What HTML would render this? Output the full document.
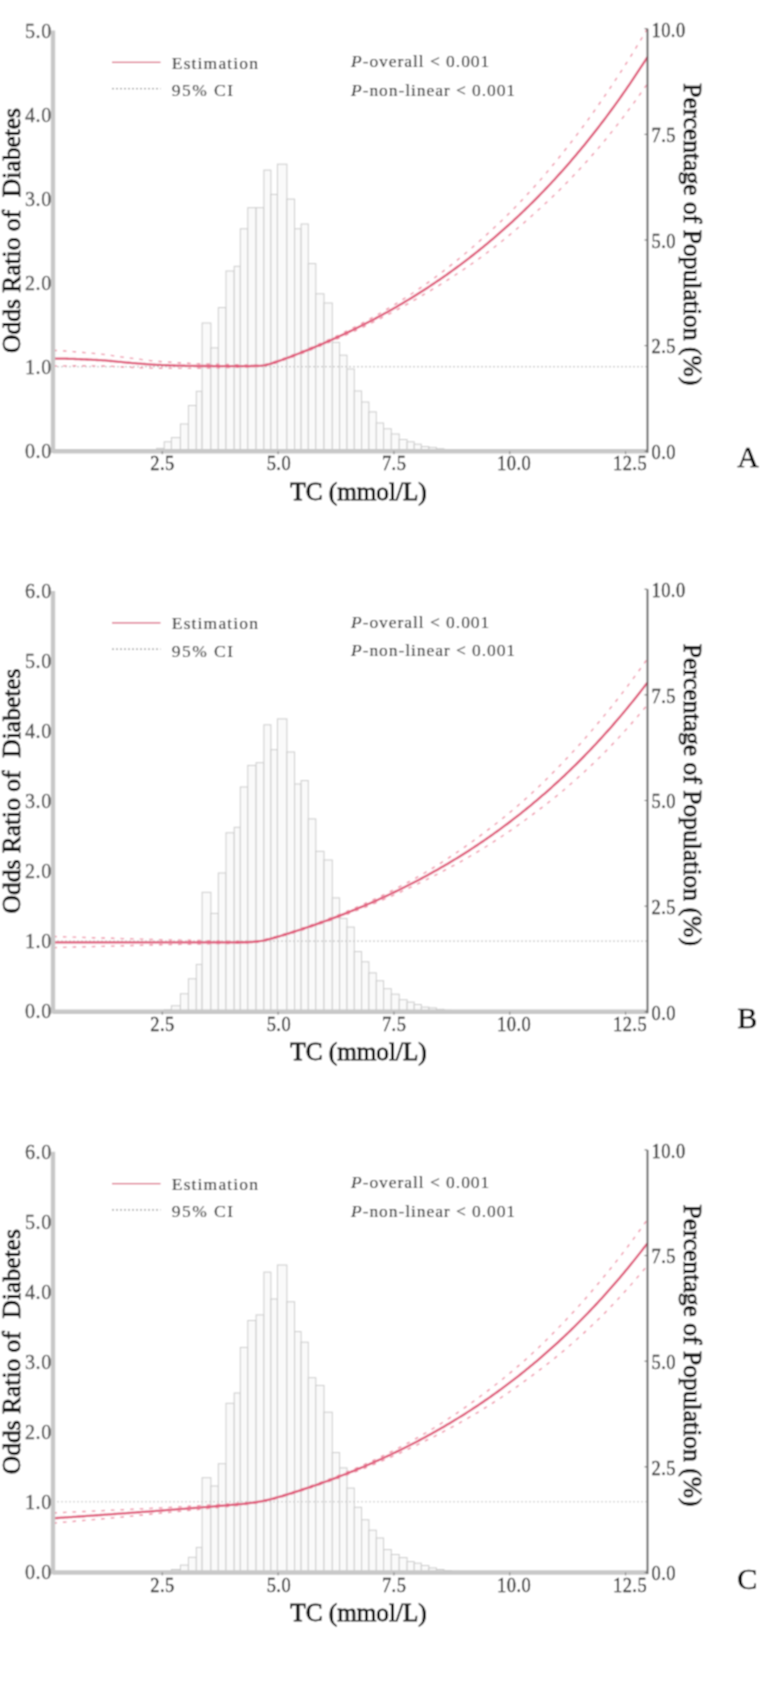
<!DOCTYPE html>
<html><head><meta charset="utf-8"><style>
html,body{margin:0;padding:0;background:#fff;}
svg{display:block;}
text{font-family:"Liberation Serif",serif;}
</style></head><body>
<svg width="760" height="1693" viewBox="0 0 760 1693">

<defs><filter id="bl" filterUnits="userSpaceOnUse" x="0" y="0" width="760" height="1693"><feConvolveMatrix order="3" kernelMatrix="1 2 1 2 4 2 1 2 1" divisor="16" edgeMode="duplicate" preserveAlpha="true"/></filter></defs>
<g filter="url(#bl)">
<rect width="760" height="1693" fill="#fff"/>
<g transform="translate(0,0)">
<rect x="149.08" y="450.30" width="7.56" height="1.00" fill="#fafafa" stroke="#cbcbcb" stroke-width="1"/>
<rect x="156.64" y="448.30" width="7.56" height="3.00" fill="#fafafa" stroke="#cbcbcb" stroke-width="1"/>
<rect x="164.20" y="441.80" width="7.20" height="9.50" fill="#fafafa" stroke="#cbcbcb" stroke-width="1"/>
<rect x="171.40" y="437.60" width="9.00" height="13.70" fill="#fafafa" stroke="#cbcbcb" stroke-width="1"/>
<rect x="180.40" y="424.00" width="8.00" height="27.30" fill="#fafafa" stroke="#cbcbcb" stroke-width="1"/>
<rect x="188.40" y="405.50" width="7.90" height="45.80" fill="#fafafa" stroke="#cbcbcb" stroke-width="1"/>
<rect x="196.30" y="391.30" width="5.80" height="60.00" fill="#fafafa" stroke="#cbcbcb" stroke-width="1"/>
<rect x="202.10" y="323.00" width="8.80" height="128.30" fill="#fafafa" stroke="#cbcbcb" stroke-width="1"/>
<rect x="210.90" y="347.90" width="7.40" height="103.40" fill="#fafafa" stroke="#cbcbcb" stroke-width="1"/>
<rect x="218.30" y="307.60" width="7.70" height="143.70" fill="#fafafa" stroke="#cbcbcb" stroke-width="1"/>
<rect x="226.00" y="271.00" width="8.20" height="180.30" fill="#fafafa" stroke="#cbcbcb" stroke-width="1"/>
<rect x="234.20" y="266.30" width="6.10" height="185.00" fill="#fafafa" stroke="#cbcbcb" stroke-width="1"/>
<rect x="240.30" y="228.80" width="7.50" height="222.50" fill="#fafafa" stroke="#cbcbcb" stroke-width="1"/>
<rect x="247.80" y="207.70" width="8.30" height="243.60" fill="#fafafa" stroke="#cbcbcb" stroke-width="1"/>
<rect x="256.10" y="207.70" width="7.80" height="243.60" fill="#fafafa" stroke="#cbcbcb" stroke-width="1"/>
<rect x="263.90" y="170.10" width="7.00" height="281.20" fill="#fafafa" stroke="#cbcbcb" stroke-width="1"/>
<rect x="270.90" y="194.40" width="6.50" height="256.90" fill="#fafafa" stroke="#cbcbcb" stroke-width="1"/>
<rect x="277.40" y="164.20" width="9.50" height="287.10" fill="#fafafa" stroke="#cbcbcb" stroke-width="1"/>
<rect x="286.90" y="199.10" width="7.70" height="252.20" fill="#fafafa" stroke="#cbcbcb" stroke-width="1"/>
<rect x="294.60" y="228.80" width="6.50" height="222.50" fill="#fafafa" stroke="#cbcbcb" stroke-width="1"/>
<rect x="301.10" y="224.00" width="7.20" height="227.30" fill="#fafafa" stroke="#cbcbcb" stroke-width="1"/>
<rect x="308.30" y="263.60" width="7.50" height="187.70" fill="#fafafa" stroke="#cbcbcb" stroke-width="1"/>
<rect x="315.80" y="293.80" width="8.20" height="157.50" fill="#fafafa" stroke="#cbcbcb" stroke-width="1"/>
<rect x="324.00" y="303.00" width="8.30" height="148.30" fill="#fafafa" stroke="#cbcbcb" stroke-width="1"/>
<rect x="332.30" y="342.40" width="7.30" height="108.90" fill="#fafafa" stroke="#cbcbcb" stroke-width="1"/>
<rect x="339.60" y="355.20" width="7.40" height="96.10" fill="#fafafa" stroke="#cbcbcb" stroke-width="1"/>
<rect x="347.00" y="369.00" width="7.30" height="82.30" fill="#fafafa" stroke="#cbcbcb" stroke-width="1"/>
<rect x="354.30" y="391.00" width="7.30" height="60.30" fill="#fafafa" stroke="#cbcbcb" stroke-width="1"/>
<rect x="361.60" y="402.00" width="7.30" height="49.30" fill="#fafafa" stroke="#cbcbcb" stroke-width="1"/>
<rect x="368.90" y="411.90" width="7.40" height="39.40" fill="#fafafa" stroke="#cbcbcb" stroke-width="1"/>
<rect x="376.30" y="423.00" width="7.30" height="28.30" fill="#fafafa" stroke="#cbcbcb" stroke-width="1"/>
<rect x="383.60" y="428.80" width="7.70" height="22.50" fill="#fafafa" stroke="#cbcbcb" stroke-width="1"/>
<rect x="391.30" y="434.00" width="7.90" height="17.30" fill="#fafafa" stroke="#cbcbcb" stroke-width="1"/>
<rect x="399.20" y="439.50" width="7.90" height="11.80" fill="#fafafa" stroke="#cbcbcb" stroke-width="1"/>
<rect x="407.10" y="441.80" width="7.10" height="9.50" fill="#fafafa" stroke="#cbcbcb" stroke-width="1"/>
<rect x="414.20" y="444.20" width="7.10" height="7.10" fill="#fafafa" stroke="#cbcbcb" stroke-width="1"/>
<rect x="421.30" y="446.60" width="7.56" height="4.70" fill="#fafafa" stroke="#cbcbcb" stroke-width="1"/>
<rect x="428.86" y="447.40" width="7.56" height="3.90" fill="#fafafa" stroke="#cbcbcb" stroke-width="1"/>
<rect x="436.42" y="448.80" width="7.56" height="2.50" fill="#fafafa" stroke="#cbcbcb" stroke-width="1"/>
<rect x="443.98" y="449.80" width="7.56" height="1.50" fill="#fafafa" stroke="#cbcbcb" stroke-width="1"/>
<rect x="451.54" y="450.30" width="7.56" height="1.00" fill="#fafafa" stroke="#cbcbcb" stroke-width="1"/>
<rect x="459.10" y="450.60" width="7.56" height="0.70" fill="#fafafa" stroke="#cbcbcb" stroke-width="1"/>
<rect x="466.66" y="450.80" width="7.56" height="0.50" fill="#fafafa" stroke="#cbcbcb" stroke-width="1"/>
<line x1="53.0" y1="366.70" x2="647.5" y2="366.70" stroke="#c8c8c8" stroke-width="1.2" stroke-dasharray="2,2"/>
<path d="M53.35,350.35 L55.33,350.44 L57.31,350.54 L59.29,350.65 L61.27,350.76 L63.25,350.88 L65.23,351.02 L67.21,351.15 L69.19,351.30 L71.17,351.45 L73.15,351.60 L75.13,351.76 L77.11,351.93 L79.09,352.10 L81.07,352.27 L83.05,352.45 L85.03,352.63 L87.01,352.81 L88.99,353.00 L90.97,353.18 L92.95,353.37 L94.93,353.56 L96.91,353.75 L98.89,353.94 L100.87,354.13 L102.85,354.34 L104.83,354.57 L106.81,354.82 L108.79,355.08 L110.77,355.36 L112.75,355.64 L114.73,355.93 L116.71,356.23 L118.69,356.53 L120.67,356.82 L122.65,357.11 L124.63,357.40 L126.61,357.67 L128.59,357.93 L130.57,358.18 L132.55,358.43 L134.53,358.68 L136.51,358.92 L138.49,359.17 L140.47,359.42 L142.45,359.66 L144.43,359.90 L146.41,360.13 L148.39,360.36 L150.37,360.58 L152.35,360.79 L154.33,360.99 L156.31,361.18 L158.29,361.36 L160.27,361.52 L162.25,361.68 L164.23,361.81 L166.21,361.94 L168.19,362.08 L170.17,362.21 L172.15,362.33 L174.13,362.46 L176.11,362.58 L178.09,362.70 L180.07,362.81 L182.05,362.93 L184.03,363.03 L186.01,363.14 L187.99,363.24 L189.97,363.33 L191.95,363.42 L193.93,363.50 L195.91,363.57 L197.89,363.64 L199.87,363.71 L201.85,363.77 L203.83,363.82 L205.81,363.88 L207.79,363.94 L209.77,364.00 L211.75,364.05 L213.73,364.11 L215.71,364.17 L217.69,364.22 L219.67,364.28 L221.65,364.33 L223.63,364.39 L225.61,364.44 L227.59,364.50 L229.57,364.55 L231.55,364.61 L233.53,364.66 L235.51,364.72 L237.49,364.77 L239.47,364.82 L241.45,364.87 L243.43,364.93 L245.41,364.98 L247.39,365.02 L249.37,365.07 L251.35,365.11 L253.33,365.14 L255.31,365.15 L257.29,365.14 L259.27,365.09 L261.25,364.94 L263.23,364.69 L265.21,364.36 L267.19,363.92 L269.17,363.41 L271.15,362.82 L273.13,362.18 L275.11,361.51 L277.09,360.81 L279.07,360.09 L281.05,359.37 L283.03,358.63 L285.01,357.89 L286.99,357.13 L288.97,356.37 L290.95,355.61 L292.93,354.84 L294.91,354.06 L296.89,353.27 L298.87,352.48 L300.85,351.68 L302.83,350.88 L304.81,350.07 L306.79,349.25 L308.77,348.43 L310.75,347.60 L312.73,346.76 L314.71,345.92 L316.69,345.06 L318.67,344.21 L320.65,343.34 L322.63,342.47 L324.61,341.59 L326.59,340.69 L328.57,339.78 L330.55,338.86 L332.53,337.94 L334.51,337.01 L336.49,336.07 L338.47,335.12 L340.45,334.17 L342.43,333.20 L344.41,332.23 L346.39,331.25 L348.37,330.27 L350.35,329.27 L352.33,328.27 L354.31,327.26 L356.29,326.24 L358.27,325.21 L360.25,324.17 L362.23,323.12 L364.21,322.06 L366.19,320.99 L368.17,319.91 L370.15,318.82 L372.13,317.72 L374.11,316.62 L376.09,315.50 L378.07,314.37 L380.05,313.24 L382.03,312.09 L384.01,310.94 L385.99,309.78 L387.97,308.60 L389.95,307.42 L391.93,306.23 L393.91,305.02 L395.89,303.81 L397.87,302.59 L399.85,301.36 L401.83,300.11 L403.81,298.86 L405.79,297.60 L407.77,296.32 L409.75,295.04 L411.73,293.74 L413.71,292.44 L415.69,291.12 L417.67,289.79 L419.65,288.45 L421.63,287.08 L423.61,285.69 L425.59,284.28 L427.57,282.87 L429.55,281.44 L431.53,280.00 L433.51,278.54 L435.49,277.08 L437.47,275.60 L439.45,274.11 L441.43,272.60 L443.41,271.09 L445.39,269.56 L447.37,268.02 L449.35,266.46 L451.33,264.89 L453.31,263.31 L455.29,261.72 L457.27,260.11 L459.25,258.49 L461.23,256.85 L463.21,255.20 L465.19,253.54 L467.17,251.86 L469.15,250.17 L471.13,248.46 L473.11,246.74 L475.09,245.00 L477.07,243.25 L479.05,241.49 L481.03,239.72 L483.01,237.96 L484.99,236.18 L486.97,234.39 L488.95,232.58 L490.93,230.76 L492.91,228.92 L494.89,227.07 L496.87,225.20 L498.85,223.31 L500.83,221.41 L502.81,219.50 L504.79,217.57 L506.77,215.62 L508.75,213.66 L510.73,211.68 L512.71,209.68 L514.69,207.67 L516.67,205.64 L518.65,203.59 L520.63,201.52 L522.61,199.44 L524.59,197.34 L526.57,195.23 L528.55,193.09 L530.53,190.94 L532.51,188.77 L534.49,186.59 L536.47,184.38 L538.45,182.14 L540.43,179.86 L542.41,177.56 L544.39,175.24 L546.37,172.91 L548.35,170.55 L550.33,168.17 L552.31,165.77 L554.29,163.36 L556.27,160.92 L558.25,158.46 L560.23,155.98 L562.21,153.52 L564.19,151.05 L566.17,148.56 L568.15,146.06 L570.13,143.53 L572.11,140.98 L574.09,138.41 L576.07,135.81 L578.05,133.20 L580.03,130.56 L582.01,127.91 L583.99,125.23 L585.97,122.53 L587.95,119.80 L589.93,117.05 L591.91,114.28 L593.89,111.49 L595.87,108.68 L597.85,105.84 L599.83,102.98 L601.81,100.09 L603.79,97.23 L605.77,94.37 L607.75,91.49 L609.73,88.58 L611.71,85.65 L613.69,82.69 L615.67,79.71 L617.65,76.71 L619.63,73.69 L621.61,70.63 L623.59,67.56 L625.57,64.46 L627.55,61.33 L629.53,58.18 L631.51,55.01 L633.49,51.80 L635.47,48.58 L637.45,45.32 L639.43,42.04 L641.41,38.74 L643.39,35.40 L645.37,32.04 L647.35,28.65" fill="none" stroke="#ef93a8" stroke-width="1.4" stroke-dasharray="3.6,6"/>
<path d="M53.35,366.13 L55.33,366.07 L57.31,366.00 L59.29,365.95 L61.27,365.90 L63.25,365.86 L65.23,365.83 L67.21,365.80 L69.19,365.78 L71.17,365.76 L73.15,365.75 L75.13,365.74 L77.11,365.74 L79.09,365.74 L81.07,365.74 L83.05,365.75 L85.03,365.76 L87.01,365.77 L88.99,365.79 L90.97,365.81 L92.95,365.83 L94.93,365.85 L96.91,365.87 L98.89,365.89 L100.87,365.91 L102.85,365.95 L104.83,366.01 L106.81,366.08 L108.79,366.17 L110.77,366.27 L112.75,366.38 L114.73,366.49 L116.71,366.61 L118.69,366.73 L120.67,366.85 L122.65,366.97 L124.63,367.08 L126.61,367.18 L128.59,367.28 L130.57,367.36 L132.55,367.44 L134.53,367.52 L136.51,367.60 L138.49,367.68 L140.47,367.76 L142.45,367.84 L144.43,367.92 L146.41,367.99 L148.39,368.06 L150.37,368.12 L152.35,368.17 L154.33,368.21 L156.31,368.24 L158.29,368.27 L160.27,368.28 L162.25,368.28 L164.23,368.30 L166.21,368.32 L168.19,368.34 L170.17,368.36 L172.15,368.38 L174.13,368.39 L176.11,368.40 L178.09,368.41 L180.07,368.42 L182.05,368.42 L184.03,368.42 L186.01,368.42 L187.99,368.41 L189.97,368.39 L191.95,368.37 L193.93,368.35 L195.91,368.32 L197.89,368.28 L199.87,368.24 L201.85,368.19 L203.83,368.14 L205.81,368.10 L207.79,368.05 L209.77,368.00 L211.75,367.95 L213.73,367.90 L215.71,367.86 L217.69,367.81 L219.67,367.76 L221.65,367.71 L223.63,367.66 L225.61,367.61 L227.59,367.56 L229.57,367.51 L231.55,367.46 L233.53,367.41 L235.51,367.36 L237.49,367.30 L239.47,367.25 L241.45,367.20 L243.43,367.15 L245.41,367.09 L247.39,367.03 L249.37,366.97 L251.35,366.91 L253.33,366.83 L255.31,366.74 L257.29,366.63 L259.27,366.48 L261.25,366.32 L263.23,366.10 L265.21,365.80 L267.19,365.39 L269.17,364.90 L271.15,364.35 L273.13,363.74 L275.11,363.10 L277.09,362.44 L279.07,361.76 L281.05,361.07 L283.03,360.37 L285.01,359.66 L286.99,358.94 L288.97,358.22 L290.95,357.49 L292.93,356.76 L294.91,356.02 L296.89,355.27 L298.87,354.52 L300.85,353.76 L302.83,353.00 L304.81,352.23 L306.79,351.45 L308.77,350.67 L310.75,349.88 L312.73,349.09 L314.71,348.29 L316.69,347.48 L318.67,346.67 L320.65,345.85 L322.63,345.03 L324.61,344.20 L326.59,343.37 L328.57,342.55 L330.55,341.71 L332.53,340.87 L334.51,340.02 L336.49,339.17 L338.47,338.30 L340.45,337.44 L342.43,336.56 L344.41,335.68 L346.39,334.79 L348.37,333.90 L350.35,333.00 L352.33,332.09 L354.31,331.17 L356.29,330.25 L358.27,329.32 L360.25,328.38 L362.23,327.44 L364.21,326.50 L366.19,325.55 L368.17,324.59 L370.15,323.63 L372.13,322.65 L374.11,321.68 L376.09,320.69 L378.07,319.69 L380.05,318.69 L382.03,317.68 L384.01,316.67 L385.99,315.64 L387.97,314.61 L389.95,313.57 L391.93,312.52 L393.91,311.46 L395.89,310.40 L397.87,309.33 L399.85,308.25 L401.83,307.16 L403.81,306.06 L405.79,304.96 L407.77,303.84 L409.75,302.72 L411.73,301.59 L413.71,300.45 L415.69,299.30 L417.67,298.14 L419.65,296.98 L421.63,295.82 L423.61,294.67 L425.59,293.51 L427.57,292.34 L429.55,291.16 L431.53,289.97 L433.51,288.77 L435.49,287.57 L437.47,286.35 L439.45,285.13 L441.43,283.90 L443.41,282.66 L445.39,281.41 L447.37,280.15 L449.35,278.88 L451.33,277.60 L453.31,276.31 L455.29,275.01 L457.27,273.71 L459.25,272.39 L461.23,271.06 L463.21,269.72 L465.19,268.38 L467.17,267.02 L469.15,265.65 L471.13,264.28 L473.11,262.89 L475.09,261.49 L477.07,260.09 L479.05,258.67 L481.03,257.23 L483.01,255.76 L484.99,254.28 L486.97,252.79 L488.95,251.28 L490.93,249.77 L492.91,248.24 L494.89,246.71 L496.87,245.16 L498.85,243.60 L500.83,242.03 L502.81,240.44 L504.79,238.85 L506.77,237.24 L508.75,235.62 L510.73,233.99 L512.71,232.34 L514.69,230.68 L516.67,229.01 L518.65,227.33 L520.63,225.64 L522.61,223.93 L524.59,222.21 L526.57,220.47 L528.55,218.73 L530.53,216.97 L532.51,215.19 L534.49,213.41 L536.47,211.61 L538.45,209.81 L540.43,208.01 L542.41,206.20 L544.39,204.38 L546.37,202.55 L548.35,200.70 L550.33,198.83 L552.31,196.96 L554.29,195.07 L556.27,193.16 L558.25,191.24 L560.23,189.31 L562.21,187.33 L564.19,185.32 L566.17,183.29 L568.15,181.25 L570.13,179.19 L572.11,177.12 L574.09,175.03 L576.07,172.93 L578.05,170.81 L580.03,168.67 L582.01,166.52 L583.99,164.35 L585.97,162.17 L587.95,159.96 L589.93,157.74 L591.91,155.51 L593.89,153.26 L595.87,150.99 L597.85,148.70 L599.83,146.40 L601.81,144.07 L603.79,141.69 L605.77,139.27 L607.75,136.83 L609.73,134.37 L611.71,131.89 L613.69,129.39 L615.67,126.87 L617.65,124.34 L619.63,121.78 L621.61,119.20 L623.59,116.60 L625.57,113.99 L627.55,111.35 L629.53,108.69 L631.51,106.01 L633.49,103.31 L635.47,100.59 L637.45,97.84 L639.43,95.08 L641.41,92.29 L643.39,89.48 L645.37,86.65 L647.35,83.80" fill="none" stroke="#ef93a8" stroke-width="1.4" stroke-dasharray="3.6,6"/>
<path d="M53.35,358.58 L55.33,358.58 L57.31,358.59 L59.29,358.61 L61.27,358.64 L63.25,358.68 L65.23,358.72 L67.21,358.77 L69.19,358.82 L71.17,358.88 L73.15,358.95 L75.13,359.02 L77.11,359.09 L79.09,359.17 L81.07,359.25 L83.05,359.34 L85.03,359.43 L87.01,359.52 L88.99,359.62 L90.97,359.71 L92.95,359.81 L94.93,359.91 L96.91,360.01 L98.89,360.11 L100.87,360.21 L102.85,360.33 L104.83,360.47 L106.81,360.63 L108.79,360.80 L110.77,360.98 L112.75,361.17 L114.73,361.37 L116.71,361.57 L118.69,361.77 L120.67,361.98 L122.65,362.18 L124.63,362.37 L126.61,362.55 L128.59,362.73 L130.57,362.89 L132.55,363.05 L134.53,363.21 L136.51,363.37 L138.49,363.53 L140.47,363.69 L142.45,363.85 L144.43,364.00 L146.41,364.15 L148.39,364.29 L150.37,364.43 L152.35,364.56 L154.33,364.68 L156.31,364.79 L158.29,364.88 L160.27,364.97 L162.25,365.04 L164.23,365.12 L166.21,365.19 L168.19,365.27 L170.17,365.34 L172.15,365.41 L174.13,365.48 L176.11,365.54 L178.09,365.60 L180.07,365.66 L182.05,365.72 L184.03,365.77 L186.01,365.82 L187.99,365.86 L189.97,365.90 L191.95,365.93 L193.93,365.96 L195.91,365.98 L197.89,365.99 L199.87,366.00 L201.85,366.01 L203.83,366.01 L205.81,366.01 L207.79,366.02 L209.77,366.02 L211.75,366.02 L213.73,366.03 L215.71,366.03 L217.69,366.03 L219.67,366.04 L221.65,366.04 L223.63,366.04 L225.61,366.04 L227.59,366.04 L229.57,366.04 L231.55,366.04 L233.53,366.05 L235.51,366.05 L237.49,366.05 L239.47,366.05 L241.45,366.05 L243.43,366.04 L245.41,366.04 L247.39,366.03 L249.37,366.03 L251.35,366.01 L253.33,365.99 L255.31,365.95 L257.29,365.89 L259.27,365.79 L261.25,365.63 L263.23,365.40 L265.21,365.08 L267.19,364.66 L269.17,364.16 L271.15,363.59 L273.13,362.96 L275.11,362.31 L277.09,361.63 L279.07,360.93 L281.05,360.22 L283.03,359.50 L285.01,358.78 L286.99,358.04 L288.97,357.30 L290.95,356.55 L292.93,355.80 L294.91,355.04 L296.89,354.28 L298.87,353.51 L300.85,352.73 L302.83,351.94 L304.81,351.15 L306.79,350.36 L308.77,349.56 L310.75,348.75 L312.73,347.93 L314.71,347.11 L316.69,346.28 L318.67,345.45 L320.65,344.61 L322.63,343.76 L324.61,342.90 L326.59,342.04 L328.57,341.17 L330.55,340.30 L332.53,339.41 L334.51,338.52 L336.49,337.63 L338.47,336.72 L340.45,335.81 L342.43,334.89 L344.41,333.97 L346.39,333.04 L348.37,332.10 L350.35,331.15 L352.33,330.19 L354.31,329.23 L356.29,328.26 L358.27,327.28 L360.25,326.29 L362.23,325.30 L364.21,324.30 L366.19,323.29 L368.17,322.27 L370.15,321.25 L372.13,320.21 L374.11,319.17 L376.09,318.12 L378.07,317.06 L380.05,315.99 L382.03,314.92 L384.01,313.83 L385.99,312.74 L387.97,311.64 L389.95,310.53 L391.93,309.41 L393.91,308.28 L395.89,307.14 L397.87,306.00 L399.85,304.84 L401.83,303.68 L403.81,302.50 L405.79,301.32 L407.77,300.13 L409.75,298.93 L411.73,297.72 L413.71,296.49 L415.69,295.26 L417.67,294.02 L419.65,292.77 L421.63,291.51 L423.61,290.24 L425.59,288.96 L427.57,287.67 L429.55,286.37 L431.53,285.06 L433.51,283.74 L435.49,282.40 L437.47,281.06 L439.45,279.71 L441.43,278.34 L443.41,276.97 L445.39,275.58 L447.37,274.19 L449.35,272.78 L451.33,271.36 L453.31,269.93 L455.29,268.49 L457.27,267.03 L459.25,265.57 L461.23,264.09 L463.21,262.60 L465.19,261.10 L467.17,259.59 L469.15,258.07 L471.13,256.53 L473.11,254.98 L475.09,253.42 L477.07,251.85 L479.05,250.26 L481.03,248.66 L483.01,247.05 L484.99,245.43 L486.97,243.79 L488.95,242.14 L490.93,240.48 L492.91,238.80 L494.89,237.11 L496.87,235.41 L498.85,233.69 L500.83,231.96 L502.81,230.22 L504.79,228.46 L506.77,226.69 L508.75,224.90 L510.73,223.10 L512.71,221.29 L514.69,219.46 L516.67,217.62 L518.65,215.76 L520.63,213.89 L522.61,212.00 L524.59,210.10 L526.57,208.18 L528.55,206.25 L530.53,204.30 L532.51,202.33 L534.49,200.35 L536.47,198.36 L538.45,196.35 L540.43,194.32 L542.41,192.28 L544.39,190.22 L546.37,188.14 L548.35,186.05 L550.33,183.94 L552.31,181.82 L554.29,179.67 L556.27,177.51 L558.25,175.34 L560.23,173.14 L562.21,170.93 L564.19,168.70 L566.17,166.46 L568.15,164.19 L570.13,161.91 L572.11,159.61 L574.09,157.29 L576.07,154.95 L578.05,152.59 L580.03,150.22 L582.01,147.83 L583.99,145.41 L585.97,142.98 L587.95,140.53 L589.93,138.06 L591.91,135.57 L593.89,133.06 L595.87,130.53 L597.85,127.98 L599.83,125.41 L601.81,122.82 L603.79,120.21 L605.77,117.57 L607.75,114.92 L609.73,112.24 L611.71,109.55 L613.69,106.83 L615.67,104.09 L617.65,101.33 L619.63,98.55 L621.61,95.75 L623.59,92.92 L625.57,90.07 L627.55,87.20 L629.53,84.30 L631.51,81.39 L633.49,78.44 L635.47,75.48 L637.45,72.49 L639.43,69.48 L641.41,66.44 L643.39,63.38 L645.37,60.30 L647.35,57.19" fill="none" stroke="#df5a7a" stroke-width="2.3"/>
<line x1="53.0" y1="451.3" x2="647.5" y2="451.3" stroke="#c8c8c8" stroke-width="4.4"/>
<line x1="53.0" y1="30.5" x2="53.0" y2="453.0" stroke="#c8c8c8" stroke-width="4.4"/>
<line x1="647.5" y1="28.7" x2="647.5" y2="452.8" stroke="#555" stroke-width="1.8"/>
<text transform="translate(51.70,457.70) scale(0.96,1)" font-size="21" letter-spacing="0.5" fill="#484848" stroke="#484848" stroke-width="0.3" text-anchor="end">0.0</text>
<text transform="translate(51.70,373.80) scale(0.96,1)" font-size="21" letter-spacing="0.5" fill="#484848" stroke="#484848" stroke-width="0.3" text-anchor="end">1.0</text>
<text transform="translate(51.70,289.90) scale(0.96,1)" font-size="21" letter-spacing="0.5" fill="#484848" stroke="#484848" stroke-width="0.3" text-anchor="end">2.0</text>
<text transform="translate(51.70,206.00) scale(0.96,1)" font-size="21" letter-spacing="0.5" fill="#484848" stroke="#484848" stroke-width="0.3" text-anchor="end">3.0</text>
<text transform="translate(51.70,122.10) scale(0.96,1)" font-size="21" letter-spacing="0.5" fill="#484848" stroke="#484848" stroke-width="0.3" text-anchor="end">4.0</text>
<text transform="translate(51.70,38.20) scale(0.96,1)" font-size="21" letter-spacing="0.5" fill="#484848" stroke="#484848" stroke-width="0.3" text-anchor="end">5.0</text>
<text transform="translate(651.5,459.10) scale(0.88,1)" font-size="21" letter-spacing="0.5" fill="#2a2a2a" stroke="#2a2a2a" stroke-width="0.35">0.0</text>
<line x1="644.5" y1="451.30" x2="647.5" y2="451.30" stroke="#666" stroke-width="1"/>
<text transform="translate(651.5,353.45) scale(0.88,1)" font-size="21" letter-spacing="0.5" fill="#2a2a2a" stroke="#2a2a2a" stroke-width="0.35">2.5</text>
<line x1="644.5" y1="345.65" x2="647.5" y2="345.65" stroke="#666" stroke-width="1"/>
<text transform="translate(651.5,247.80) scale(0.88,1)" font-size="21" letter-spacing="0.5" fill="#2a2a2a" stroke="#2a2a2a" stroke-width="0.35">5.0</text>
<line x1="644.5" y1="240.00" x2="647.5" y2="240.00" stroke="#666" stroke-width="1"/>
<text transform="translate(651.5,142.15) scale(0.88,1)" font-size="21" letter-spacing="0.5" fill="#2a2a2a" stroke="#2a2a2a" stroke-width="0.35">7.5</text>
<line x1="644.5" y1="134.35" x2="647.5" y2="134.35" stroke="#666" stroke-width="1"/>
<text transform="translate(651.5,36.50) scale(0.88,1)" font-size="21" letter-spacing="0.5" fill="#2a2a2a" stroke="#2a2a2a" stroke-width="0.35">10.0</text>
<line x1="644.5" y1="28.70" x2="647.5" y2="28.70" stroke="#666" stroke-width="1"/>
<text transform="translate(162.45,470.3) scale(0.88,1)" font-size="21" letter-spacing="0.5" fill="#222" stroke="#222" stroke-width="0.35" text-anchor="middle">2.5</text>
<line x1="162.27" y1="451.3" x2="162.27" y2="454.3" stroke="#777" stroke-width="1"/>
<text transform="translate(278.85,470.3) scale(0.88,1)" font-size="21" letter-spacing="0.5" fill="#222" stroke="#222" stroke-width="0.35" text-anchor="middle">5.0</text>
<line x1="278.10" y1="451.3" x2="278.10" y2="454.3" stroke="#777" stroke-width="1"/>
<text transform="translate(394.15,470.3) scale(0.88,1)" font-size="21" letter-spacing="0.5" fill="#222" stroke="#222" stroke-width="0.35" text-anchor="middle">7.5</text>
<line x1="393.92" y1="451.3" x2="393.92" y2="454.3" stroke="#777" stroke-width="1"/>
<text transform="translate(514.15,470.3) scale(0.88,1)" font-size="21" letter-spacing="0.5" fill="#222" stroke="#222" stroke-width="0.35" text-anchor="middle">10.0</text>
<line x1="509.75" y1="451.3" x2="509.75" y2="454.3" stroke="#777" stroke-width="1"/>
<text transform="translate(630.05,470.3) scale(0.88,1)" font-size="21" letter-spacing="0.5" fill="#222" stroke="#222" stroke-width="0.35" text-anchor="middle">12.5</text>
<line x1="625.58" y1="451.3" x2="625.58" y2="454.3" stroke="#777" stroke-width="1"/>
<text x="358.5" y="499.8" font-size="25.2" fill="#111" stroke="#111" stroke-width="0.8" text-anchor="middle">TC (mmol/L)</text>
<text transform="translate(20,230.5) rotate(-90)" font-size="25.5" fill="#111" stroke="#111" stroke-width="0.8" text-anchor="middle" style="white-space:pre">Odds Ratio of  Diabetes</text>
<text transform="translate(683.8,234.4) rotate(90)" font-size="25.6" fill="#111" stroke="#111" stroke-width="0.8" text-anchor="middle">Percentage of Population (%)</text>
<line x1="112" y1="62.4" x2="160.5" y2="62.4" stroke="#d95a78" stroke-width="1.3"/>
<line x1="112" y1="88.7" x2="160.5" y2="88.7" stroke="#9c9c9c" stroke-width="1.3" stroke-dasharray="2,2"/>
<text x="171.8" y="68.6" font-size="17.5" letter-spacing="1.15" fill="#1a1a1a" stroke="#1a1a1a" stroke-width="0.1">Estimation</text>
<text x="171.8" y="96.2" font-size="17.5" letter-spacing="1.45" fill="#1a1a1a" stroke="#1a1a1a" stroke-width="0.1">95% CI</text>
<text x="351" y="67.2" font-size="17.5" letter-spacing="0.95" fill="#1a1a1a" stroke="#1a1a1a" stroke-width="0.1"><tspan font-style="italic">P</tspan>-overall &lt; 0.001</text>
<text x="351" y="95.6" font-size="17.5" letter-spacing="0.93" fill="#1a1a1a" stroke="#1a1a1a" stroke-width="0.1"><tspan font-style="italic">P</tspan>-non-linear &lt; 0.001</text>
<text x="737.3" y="467.4" font-size="30" fill="#000" stroke="#000" stroke-width="0.4">A</text>
</g>
<g transform="translate(0,560.5)">
<rect x="149.08" y="450.80" width="7.56" height="0.50" fill="#fafafa" stroke="#cbcbcb" stroke-width="1"/>
<rect x="156.64" y="450.30" width="7.56" height="1.00" fill="#fafafa" stroke="#cbcbcb" stroke-width="1"/>
<rect x="164.20" y="449.30" width="7.20" height="2.00" fill="#fafafa" stroke="#cbcbcb" stroke-width="1"/>
<rect x="171.40" y="445.30" width="9.00" height="6.00" fill="#fafafa" stroke="#cbcbcb" stroke-width="1"/>
<rect x="180.40" y="433.30" width="8.00" height="18.00" fill="#fafafa" stroke="#cbcbcb" stroke-width="1"/>
<rect x="188.40" y="418.30" width="7.90" height="33.00" fill="#fafafa" stroke="#cbcbcb" stroke-width="1"/>
<rect x="196.30" y="403.90" width="5.80" height="47.40" fill="#fafafa" stroke="#cbcbcb" stroke-width="1"/>
<rect x="202.10" y="331.80" width="8.80" height="119.50" fill="#fafafa" stroke="#cbcbcb" stroke-width="1"/>
<rect x="210.90" y="352.90" width="7.40" height="98.40" fill="#fafafa" stroke="#cbcbcb" stroke-width="1"/>
<rect x="218.30" y="312.50" width="7.70" height="138.80" fill="#fafafa" stroke="#cbcbcb" stroke-width="1"/>
<rect x="226.00" y="272.30" width="8.20" height="179.00" fill="#fafafa" stroke="#cbcbcb" stroke-width="1"/>
<rect x="234.20" y="266.80" width="6.10" height="184.50" fill="#fafafa" stroke="#cbcbcb" stroke-width="1"/>
<rect x="240.30" y="226.50" width="7.50" height="224.80" fill="#fafafa" stroke="#cbcbcb" stroke-width="1"/>
<rect x="247.80" y="204.90" width="8.30" height="246.40" fill="#fafafa" stroke="#cbcbcb" stroke-width="1"/>
<rect x="256.10" y="202.20" width="7.80" height="249.10" fill="#fafafa" stroke="#cbcbcb" stroke-width="1"/>
<rect x="263.90" y="164.30" width="7.00" height="287.00" fill="#fafafa" stroke="#cbcbcb" stroke-width="1"/>
<rect x="270.90" y="189.20" width="6.50" height="262.10" fill="#fafafa" stroke="#cbcbcb" stroke-width="1"/>
<rect x="277.40" y="158.40" width="9.50" height="292.90" fill="#fafafa" stroke="#cbcbcb" stroke-width="1"/>
<rect x="286.90" y="191.50" width="7.70" height="259.80" fill="#fafafa" stroke="#cbcbcb" stroke-width="1"/>
<rect x="294.60" y="223.50" width="6.50" height="227.80" fill="#fafafa" stroke="#cbcbcb" stroke-width="1"/>
<rect x="301.10" y="220.10" width="7.20" height="231.20" fill="#fafafa" stroke="#cbcbcb" stroke-width="1"/>
<rect x="308.30" y="258.40" width="7.50" height="192.90" fill="#fafafa" stroke="#cbcbcb" stroke-width="1"/>
<rect x="315.80" y="290.80" width="8.20" height="160.50" fill="#fafafa" stroke="#cbcbcb" stroke-width="1"/>
<rect x="324.00" y="299.50" width="8.30" height="151.80" fill="#fafafa" stroke="#cbcbcb" stroke-width="1"/>
<rect x="332.30" y="337.40" width="7.30" height="113.90" fill="#fafafa" stroke="#cbcbcb" stroke-width="1"/>
<rect x="339.60" y="357.90" width="7.40" height="93.40" fill="#fafafa" stroke="#cbcbcb" stroke-width="1"/>
<rect x="347.00" y="366.60" width="7.30" height="84.70" fill="#fafafa" stroke="#cbcbcb" stroke-width="1"/>
<rect x="354.30" y="391.10" width="7.30" height="60.20" fill="#fafafa" stroke="#cbcbcb" stroke-width="1"/>
<rect x="361.60" y="401.30" width="7.30" height="50.00" fill="#fafafa" stroke="#cbcbcb" stroke-width="1"/>
<rect x="368.90" y="412.40" width="7.40" height="38.90" fill="#fafafa" stroke="#cbcbcb" stroke-width="1"/>
<rect x="376.30" y="420.30" width="7.30" height="31.00" fill="#fafafa" stroke="#cbcbcb" stroke-width="1"/>
<rect x="383.60" y="428.20" width="7.70" height="23.10" fill="#fafafa" stroke="#cbcbcb" stroke-width="1"/>
<rect x="391.30" y="433.70" width="7.90" height="17.60" fill="#fafafa" stroke="#cbcbcb" stroke-width="1"/>
<rect x="399.20" y="439.20" width="7.90" height="12.10" fill="#fafafa" stroke="#cbcbcb" stroke-width="1"/>
<rect x="407.10" y="441.60" width="7.10" height="9.70" fill="#fafafa" stroke="#cbcbcb" stroke-width="1"/>
<rect x="414.20" y="444.00" width="7.10" height="7.30" fill="#fafafa" stroke="#cbcbcb" stroke-width="1"/>
<rect x="421.30" y="446.60" width="7.56" height="4.70" fill="#fafafa" stroke="#cbcbcb" stroke-width="1"/>
<rect x="428.86" y="447.40" width="7.56" height="3.90" fill="#fafafa" stroke="#cbcbcb" stroke-width="1"/>
<rect x="436.42" y="448.80" width="7.56" height="2.50" fill="#fafafa" stroke="#cbcbcb" stroke-width="1"/>
<rect x="443.98" y="449.80" width="7.56" height="1.50" fill="#fafafa" stroke="#cbcbcb" stroke-width="1"/>
<rect x="451.54" y="450.30" width="7.56" height="1.00" fill="#fafafa" stroke="#cbcbcb" stroke-width="1"/>
<rect x="459.10" y="450.60" width="7.56" height="0.70" fill="#fafafa" stroke="#cbcbcb" stroke-width="1"/>
<rect x="466.66" y="450.80" width="7.56" height="0.50" fill="#fafafa" stroke="#cbcbcb" stroke-width="1"/>
<line x1="53.0" y1="380.53" x2="647.5" y2="380.53" stroke="#c8c8c8" stroke-width="1.2" stroke-dasharray="2,2"/>
<path d="M53.35,376.00 L55.33,376.06 L57.31,376.12 L59.29,376.18 L61.27,376.24 L63.25,376.30 L65.23,376.36 L67.21,376.42 L69.19,376.48 L71.17,376.54 L73.15,376.60 L75.13,376.66 L77.11,376.72 L79.09,376.78 L81.07,376.84 L83.05,376.90 L85.03,376.96 L87.01,377.02 L88.99,377.08 L90.97,377.14 L92.95,377.20 L94.93,377.26 L96.91,377.32 L98.89,377.37 L100.87,377.43 L102.85,377.49 L104.83,377.55 L106.81,377.61 L108.79,377.67 L110.77,377.73 L112.75,377.79 L114.73,377.85 L116.71,377.90 L118.69,377.96 L120.67,378.02 L122.65,378.08 L124.63,378.14 L126.61,378.20 L128.59,378.26 L130.57,378.31 L132.55,378.37 L134.53,378.43 L136.51,378.49 L138.49,378.55 L140.47,378.61 L142.45,378.66 L144.43,378.72 L146.41,378.78 L148.39,378.84 L150.37,378.90 L152.35,378.95 L154.33,379.01 L156.31,379.07 L158.29,379.13 L160.27,379.19 L162.25,379.24 L164.23,379.28 L166.21,379.33 L168.19,379.37 L170.17,379.41 L172.15,379.45 L174.13,379.49 L176.11,379.53 L178.09,379.57 L180.07,379.61 L182.05,379.65 L184.03,379.69 L186.01,379.73 L187.99,379.78 L189.97,379.82 L191.95,379.86 L193.93,379.90 L195.91,379.94 L197.89,379.98 L199.87,380.02 L201.85,380.06 L203.83,380.10 L205.81,380.14 L207.79,380.18 L209.77,380.22 L211.75,380.26 L213.73,380.30 L215.71,380.34 L217.69,380.38 L219.67,380.42 L221.65,380.46 L223.63,380.50 L225.61,380.54 L227.59,380.58 L229.57,380.62 L231.55,380.66 L233.53,380.70 L235.51,380.73 L237.49,380.77 L239.47,380.80 L241.45,380.82 L243.43,380.84 L245.41,380.85 L247.39,380.84 L249.37,380.82 L251.35,380.77 L253.33,380.68 L255.31,380.56 L257.29,380.38 L259.27,380.14 L261.25,379.81 L263.23,379.42 L265.21,378.98 L267.19,378.50 L269.17,377.99 L271.15,377.45 L273.13,376.89 L275.11,376.31 L277.09,375.72 L279.07,375.13 L281.05,374.52 L283.03,373.90 L285.01,373.28 L286.99,372.66 L288.97,372.02 L290.95,371.38 L292.93,370.74 L294.91,370.09 L296.89,369.43 L298.87,368.77 L300.85,368.11 L302.83,367.44 L304.81,366.76 L306.79,366.08 L308.77,365.39 L310.75,364.70 L312.73,364.00 L314.71,363.29 L316.69,362.58 L318.67,361.86 L320.65,361.14 L322.63,360.41 L324.61,359.68 L326.59,358.93 L328.57,358.17 L330.55,357.40 L332.53,356.63 L334.51,355.85 L336.49,355.07 L338.47,354.28 L340.45,353.48 L342.43,352.67 L344.41,351.86 L346.39,351.05 L348.37,350.22 L350.35,349.39 L352.33,348.55 L354.31,347.71 L356.29,346.86 L358.27,346.00 L360.25,345.13 L362.23,344.26 L364.21,343.37 L366.19,342.48 L368.17,341.57 L370.15,340.66 L372.13,339.75 L374.11,338.82 L376.09,337.89 L378.07,336.95 L380.05,336.00 L382.03,335.05 L384.01,334.08 L385.99,333.11 L387.97,332.13 L389.95,331.14 L391.93,330.15 L393.91,329.14 L395.89,328.13 L397.87,327.11 L399.85,326.08 L401.83,325.04 L403.81,323.99 L405.79,322.94 L407.77,321.88 L409.75,320.80 L411.73,319.72 L413.71,318.63 L415.69,317.53 L417.67,316.42 L419.65,315.30 L421.63,314.16 L423.61,312.99 L425.59,311.82 L427.57,310.64 L429.55,309.44 L431.53,308.24 L433.51,307.03 L435.49,305.80 L437.47,304.57 L439.45,303.32 L441.43,302.07 L443.41,300.80 L445.39,299.52 L447.37,298.24 L449.35,296.94 L451.33,295.63 L453.31,294.31 L455.29,292.97 L457.27,291.63 L459.25,290.28 L461.23,288.91 L463.21,287.53 L465.19,286.14 L467.17,284.74 L469.15,283.33 L471.13,281.90 L473.11,280.47 L475.09,279.02 L477.07,277.55 L479.05,276.08 L481.03,274.61 L483.01,273.13 L484.99,271.65 L486.97,270.15 L488.95,268.64 L490.93,267.12 L492.91,265.59 L494.89,264.04 L496.87,262.48 L498.85,260.90 L500.83,259.32 L502.81,257.72 L504.79,256.10 L506.77,254.48 L508.75,252.84 L510.73,251.18 L512.71,249.52 L514.69,247.84 L516.67,246.14 L518.65,244.43 L520.63,242.71 L522.61,240.97 L524.59,239.22 L526.57,237.45 L528.55,235.67 L530.53,233.87 L532.51,232.06 L534.49,230.23 L536.47,228.39 L538.45,226.52 L540.43,224.61 L542.41,222.70 L544.39,220.76 L546.37,218.81 L548.35,216.84 L550.33,214.85 L552.31,212.85 L554.29,210.83 L556.27,208.80 L558.25,206.74 L560.23,204.67 L562.21,202.62 L564.19,200.56 L566.17,198.48 L568.15,196.38 L570.13,194.27 L572.11,192.14 L574.09,190.00 L576.07,187.83 L578.05,185.65 L580.03,183.45 L582.01,181.23 L583.99,178.99 L585.97,176.73 L587.95,174.46 L589.93,172.16 L591.91,169.85 L593.89,167.52 L595.87,165.17 L597.85,162.80 L599.83,160.41 L601.81,158.00 L603.79,155.61 L605.77,153.22 L607.75,150.81 L609.73,148.38 L611.71,145.94 L613.69,143.47 L615.67,140.98 L617.65,138.47 L619.63,135.95 L621.61,133.40 L623.59,130.83 L625.57,128.24 L627.55,125.63 L629.53,123.00 L631.51,120.35 L633.49,117.67 L635.47,114.98 L637.45,112.26 L639.43,109.52 L641.41,106.76 L643.39,103.97 L645.37,101.17 L647.35,98.34" fill="none" stroke="#ef93a8" stroke-width="1.4" stroke-dasharray="3.6,6"/>
<path d="M53.35,387.14 L55.33,387.09 L57.31,387.03 L59.29,386.98 L61.27,386.93 L63.25,386.88 L65.23,386.83 L67.21,386.78 L69.19,386.72 L71.17,386.67 L73.15,386.62 L75.13,386.57 L77.11,386.52 L79.09,386.47 L81.07,386.41 L83.05,386.36 L85.03,386.31 L87.01,386.26 L88.99,386.21 L90.97,386.15 L92.95,386.10 L94.93,386.05 L96.91,386.00 L98.89,385.95 L100.87,385.89 L102.85,385.84 L104.83,385.79 L106.81,385.74 L108.79,385.68 L110.77,385.63 L112.75,385.58 L114.73,385.53 L116.71,385.47 L118.69,385.42 L120.67,385.37 L122.65,385.31 L124.63,385.26 L126.61,385.21 L128.59,385.16 L130.57,385.10 L132.55,385.05 L134.53,385.00 L136.51,384.94 L138.49,384.89 L140.47,384.84 L142.45,384.78 L144.43,384.73 L146.41,384.68 L148.39,384.62 L150.37,384.57 L152.35,384.52 L154.33,384.46 L156.31,384.41 L158.29,384.36 L160.27,384.30 L162.25,384.25 L164.23,384.21 L166.21,384.17 L168.19,384.14 L170.17,384.10 L172.15,384.06 L174.13,384.02 L176.11,383.98 L178.09,383.94 L180.07,383.91 L182.05,383.87 L184.03,383.83 L186.01,383.79 L187.99,383.75 L189.97,383.71 L191.95,383.67 L193.93,383.64 L195.91,383.60 L197.89,383.56 L199.87,383.52 L201.85,383.48 L203.83,383.44 L205.81,383.40 L207.79,383.37 L209.77,383.33 L211.75,383.29 L213.73,383.25 L215.71,383.21 L217.69,383.17 L219.67,383.13 L221.65,383.09 L223.63,383.05 L225.61,383.01 L227.59,382.97 L229.57,382.93 L231.55,382.89 L233.53,382.85 L235.51,382.81 L237.49,382.76 L239.47,382.71 L241.45,382.66 L243.43,382.60 L245.41,382.53 L247.39,382.45 L249.37,382.34 L251.35,382.22 L253.33,382.05 L255.31,381.85 L257.29,381.59 L259.27,381.29 L261.25,380.96 L263.23,380.59 L265.21,380.18 L267.19,379.72 L269.17,379.24 L271.15,378.72 L273.13,378.19 L275.11,377.64 L277.09,377.08 L279.07,376.51 L281.05,375.94 L283.03,375.35 L285.01,374.76 L286.99,374.17 L288.97,373.56 L290.95,372.96 L292.93,372.34 L294.91,371.73 L296.89,371.10 L298.87,370.48 L300.85,369.84 L302.83,369.21 L304.81,368.56 L306.79,367.92 L308.77,367.26 L310.75,366.61 L312.73,365.94 L314.71,365.28 L316.69,364.60 L318.67,363.92 L320.65,363.24 L322.63,362.55 L324.61,361.86 L326.59,361.17 L328.57,360.48 L330.55,359.78 L332.53,359.08 L334.51,358.37 L336.49,357.65 L338.47,356.93 L340.45,356.21 L342.43,355.48 L344.41,354.74 L346.39,354.00 L348.37,353.25 L350.35,352.50 L352.33,351.74 L354.31,350.98 L356.29,350.21 L358.27,349.43 L360.25,348.65 L362.23,347.86 L364.21,347.07 L366.19,346.28 L368.17,345.48 L370.15,344.68 L372.13,343.87 L374.11,343.05 L376.09,342.22 L378.07,341.39 L380.05,340.56 L382.03,339.71 L384.01,338.86 L385.99,338.01 L387.97,337.15 L389.95,336.28 L391.93,335.40 L393.91,334.52 L395.89,333.63 L397.87,332.74 L399.85,331.83 L401.83,330.92 L403.81,330.01 L405.79,329.08 L407.77,328.15 L409.75,327.22 L411.73,326.27 L413.71,325.32 L415.69,324.36 L417.67,323.40 L419.65,322.42 L421.63,321.46 L423.61,320.49 L425.59,319.52 L427.57,318.55 L429.55,317.56 L431.53,316.57 L433.51,315.57 L435.49,314.56 L437.47,313.55 L439.45,312.53 L441.43,311.50 L443.41,310.46 L445.39,309.42 L447.37,308.37 L449.35,307.31 L451.33,306.24 L453.31,305.16 L455.29,304.08 L457.27,302.99 L459.25,301.89 L461.23,300.78 L463.21,299.66 L465.19,298.54 L467.17,297.41 L469.15,296.26 L471.13,295.11 L473.11,293.96 L475.09,292.79 L477.07,291.61 L479.05,290.43 L481.03,289.22 L483.01,288.00 L484.99,286.76 L486.97,285.52 L488.95,284.26 L490.93,283.00 L492.91,281.72 L494.89,280.44 L496.87,279.15 L498.85,277.84 L500.83,276.53 L502.81,275.21 L504.79,273.88 L506.77,272.53 L508.75,271.18 L510.73,269.82 L512.71,268.44 L514.69,267.06 L516.67,265.66 L518.65,264.26 L520.63,262.84 L522.61,261.42 L524.59,259.98 L526.57,258.53 L528.55,257.07 L530.53,255.60 L532.51,254.12 L534.49,252.63 L536.47,251.13 L538.45,249.62 L540.43,248.12 L542.41,246.61 L544.39,245.09 L546.37,243.56 L548.35,242.02 L550.33,240.46 L552.31,238.89 L554.29,237.31 L556.27,235.72 L558.25,234.12 L560.23,232.51 L562.21,230.85 L564.19,229.17 L566.17,227.48 L568.15,225.77 L570.13,224.06 L572.11,222.33 L574.09,220.58 L576.07,218.83 L578.05,217.05 L580.03,215.27 L582.01,213.47 L583.99,211.66 L585.97,209.84 L587.95,208.00 L589.93,206.15 L591.91,204.28 L593.89,202.40 L595.87,200.50 L597.85,198.59 L599.83,196.67 L601.81,194.73 L603.79,192.74 L605.77,190.72 L607.75,188.68 L609.73,186.62 L611.71,184.55 L613.69,182.47 L615.67,180.36 L617.65,178.24 L619.63,176.11 L621.61,173.96 L623.59,171.79 L625.57,169.60 L627.55,167.40 L629.53,165.18 L631.51,162.94 L633.49,160.68 L635.47,158.41 L637.45,156.12 L639.43,153.81 L641.41,151.49 L643.39,149.14 L645.37,146.78 L647.35,144.40" fill="none" stroke="#ef93a8" stroke-width="1.4" stroke-dasharray="3.6,6"/>
<path d="M53.35,381.79 L55.33,381.79 L57.31,381.79 L59.29,381.79 L61.27,381.79 L63.25,381.79 L65.23,381.79 L67.21,381.79 L69.19,381.79 L71.17,381.79 L73.15,381.79 L75.13,381.79 L77.11,381.79 L79.09,381.79 L81.07,381.79 L83.05,381.79 L85.03,381.79 L87.01,381.79 L88.99,381.79 L90.97,381.79 L92.95,381.79 L94.93,381.79 L96.91,381.79 L98.89,381.79 L100.87,381.79 L102.85,381.79 L104.83,381.79 L106.81,381.79 L108.79,381.79 L110.77,381.79 L112.75,381.79 L114.73,381.79 L116.71,381.79 L118.69,381.79 L120.67,381.79 L122.65,381.79 L124.63,381.79 L126.61,381.79 L128.59,381.79 L130.57,381.79 L132.55,381.79 L134.53,381.79 L136.51,381.79 L138.49,381.79 L140.47,381.79 L142.45,381.79 L144.43,381.79 L146.41,381.79 L148.39,381.79 L150.37,381.79 L152.35,381.79 L154.33,381.79 L156.31,381.79 L158.29,381.79 L160.27,381.79 L162.25,381.79 L164.23,381.79 L166.21,381.79 L168.19,381.79 L170.17,381.79 L172.15,381.79 L174.13,381.79 L176.11,381.79 L178.09,381.79 L180.07,381.79 L182.05,381.79 L184.03,381.79 L186.01,381.79 L187.99,381.79 L189.97,381.79 L191.95,381.79 L193.93,381.79 L195.91,381.79 L197.89,381.79 L199.87,381.79 L201.85,381.79 L203.83,381.79 L205.81,381.79 L207.79,381.79 L209.77,381.79 L211.75,381.79 L213.73,381.79 L215.71,381.79 L217.69,381.79 L219.67,381.79 L221.65,381.79 L223.63,381.79 L225.61,381.79 L227.59,381.79 L229.57,381.79 L231.55,381.79 L233.53,381.78 L235.51,381.78 L237.49,381.77 L239.47,381.76 L241.45,381.75 L243.43,381.73 L245.41,381.69 L247.39,381.65 L249.37,381.59 L251.35,381.50 L253.33,381.37 L255.31,381.20 L257.29,380.99 L259.27,380.72 L261.25,380.39 L263.23,380.01 L265.21,379.58 L267.19,379.11 L269.17,378.61 L271.15,378.09 L273.13,377.54 L275.11,376.98 L277.09,376.41 L279.07,375.82 L281.05,375.23 L283.03,374.63 L285.01,374.03 L286.99,373.41 L288.97,372.80 L290.95,372.17 L292.93,371.55 L294.91,370.91 L296.89,370.27 L298.87,369.63 L300.85,368.98 L302.83,368.33 L304.81,367.67 L306.79,367.00 L308.77,366.33 L310.75,365.66 L312.73,364.98 L314.71,364.29 L316.69,363.60 L318.67,362.90 L320.65,362.20 L322.63,361.49 L324.61,360.77 L326.59,360.05 L328.57,359.33 L330.55,358.60 L332.53,357.86 L334.51,357.12 L336.49,356.37 L338.47,355.61 L340.45,354.85 L342.43,354.09 L344.41,353.31 L346.39,352.53 L348.37,351.75 L350.35,350.96 L352.33,350.16 L354.31,349.36 L356.29,348.55 L358.27,347.73 L360.25,346.91 L362.23,346.08 L364.21,345.24 L366.19,344.40 L368.17,343.55 L370.15,342.69 L372.13,341.83 L374.11,340.96 L376.09,340.08 L378.07,339.19 L380.05,338.30 L382.03,337.40 L384.01,336.50 L385.99,335.59 L387.97,334.67 L389.95,333.74 L391.93,332.80 L393.91,331.86 L395.89,330.91 L397.87,329.95 L399.85,328.99 L401.83,328.02 L403.81,327.04 L405.79,326.05 L407.77,325.05 L409.75,324.05 L411.73,323.04 L413.71,322.02 L415.69,320.99 L417.67,319.95 L419.65,318.91 L421.63,317.86 L423.61,316.80 L425.59,315.73 L427.57,314.65 L429.55,313.56 L431.53,312.47 L433.51,311.36 L435.49,310.25 L437.47,309.13 L439.45,308.00 L441.43,306.86 L443.41,305.71 L445.39,304.55 L447.37,303.39 L449.35,302.21 L451.33,301.03 L453.31,299.83 L455.29,298.63 L457.27,297.41 L459.25,296.19 L461.23,294.96 L463.21,293.71 L465.19,292.46 L467.17,291.20 L469.15,289.93 L471.13,288.64 L473.11,287.35 L475.09,286.05 L477.07,284.73 L479.05,283.41 L481.03,282.07 L483.01,280.73 L484.99,279.37 L486.97,278.00 L488.95,276.63 L490.93,275.24 L492.91,273.84 L494.89,272.43 L496.87,271.00 L498.85,269.57 L500.83,268.13 L502.81,266.67 L504.79,265.20 L506.77,263.72 L508.75,262.23 L510.73,260.73 L512.71,259.21 L514.69,257.69 L516.67,256.15 L518.65,254.59 L520.63,253.03 L522.61,251.45 L524.59,249.87 L526.57,248.26 L528.55,246.65 L530.53,245.02 L532.51,243.38 L534.49,241.73 L536.47,240.06 L538.45,238.38 L540.43,236.69 L542.41,234.99 L544.39,233.27 L546.37,231.53 L548.35,229.78 L550.33,228.02 L552.31,226.25 L554.29,224.46 L556.27,222.66 L558.25,220.84 L560.23,219.01 L562.21,217.16 L564.19,215.30 L566.17,213.42 L568.15,211.53 L570.13,209.62 L572.11,207.70 L574.09,205.76 L576.07,203.81 L578.05,201.85 L580.03,199.86 L582.01,197.86 L583.99,195.85 L585.97,193.82 L587.95,191.77 L589.93,189.71 L591.91,187.63 L593.89,185.53 L595.87,183.42 L597.85,181.29 L599.83,179.14 L601.81,176.98 L603.79,174.80 L605.77,172.60 L607.75,170.38 L609.73,168.15 L611.71,165.90 L613.69,163.63 L615.67,161.34 L617.65,159.04 L619.63,156.71 L621.61,154.37 L623.59,152.01 L625.57,149.63 L627.55,147.23 L629.53,144.81 L631.51,142.38 L633.49,139.92 L635.47,137.44 L637.45,134.95 L639.43,132.43 L641.41,129.90 L643.39,127.34 L645.37,124.77 L647.35,122.17" fill="none" stroke="#df5a7a" stroke-width="2.3"/>
<line x1="53.0" y1="451.3" x2="647.5" y2="451.3" stroke="#c8c8c8" stroke-width="4.4"/>
<line x1="53.0" y1="30.5" x2="53.0" y2="453.0" stroke="#c8c8c8" stroke-width="4.4"/>
<line x1="647.5" y1="28.7" x2="647.5" y2="452.8" stroke="#555" stroke-width="1.8"/>
<text transform="translate(51.70,457.70) scale(0.96,1)" font-size="21" letter-spacing="0.5" fill="#484848" stroke="#484848" stroke-width="0.3" text-anchor="end">0.0</text>
<text transform="translate(51.70,387.63) scale(0.96,1)" font-size="21" letter-spacing="0.5" fill="#484848" stroke="#484848" stroke-width="0.3" text-anchor="end">1.0</text>
<text transform="translate(51.70,317.57) scale(0.96,1)" font-size="21" letter-spacing="0.5" fill="#484848" stroke="#484848" stroke-width="0.3" text-anchor="end">2.0</text>
<text transform="translate(51.70,247.50) scale(0.96,1)" font-size="21" letter-spacing="0.5" fill="#484848" stroke="#484848" stroke-width="0.3" text-anchor="end">3.0</text>
<text transform="translate(51.70,177.43) scale(0.96,1)" font-size="21" letter-spacing="0.5" fill="#484848" stroke="#484848" stroke-width="0.3" text-anchor="end">4.0</text>
<text transform="translate(51.70,107.37) scale(0.96,1)" font-size="21" letter-spacing="0.5" fill="#484848" stroke="#484848" stroke-width="0.3" text-anchor="end">5.0</text>
<text transform="translate(51.70,37.30) scale(0.96,1)" font-size="21" letter-spacing="0.5" fill="#484848" stroke="#484848" stroke-width="0.3" text-anchor="end">6.0</text>
<text transform="translate(651.5,459.10) scale(0.88,1)" font-size="21" letter-spacing="0.5" fill="#2a2a2a" stroke="#2a2a2a" stroke-width="0.35">0.0</text>
<line x1="644.5" y1="451.30" x2="647.5" y2="451.30" stroke="#666" stroke-width="1"/>
<text transform="translate(651.5,353.45) scale(0.88,1)" font-size="21" letter-spacing="0.5" fill="#2a2a2a" stroke="#2a2a2a" stroke-width="0.35">2.5</text>
<line x1="644.5" y1="345.65" x2="647.5" y2="345.65" stroke="#666" stroke-width="1"/>
<text transform="translate(651.5,247.80) scale(0.88,1)" font-size="21" letter-spacing="0.5" fill="#2a2a2a" stroke="#2a2a2a" stroke-width="0.35">5.0</text>
<line x1="644.5" y1="240.00" x2="647.5" y2="240.00" stroke="#666" stroke-width="1"/>
<text transform="translate(651.5,142.15) scale(0.88,1)" font-size="21" letter-spacing="0.5" fill="#2a2a2a" stroke="#2a2a2a" stroke-width="0.35">7.5</text>
<line x1="644.5" y1="134.35" x2="647.5" y2="134.35" stroke="#666" stroke-width="1"/>
<text transform="translate(651.5,36.50) scale(0.88,1)" font-size="21" letter-spacing="0.5" fill="#2a2a2a" stroke="#2a2a2a" stroke-width="0.35">10.0</text>
<line x1="644.5" y1="28.70" x2="647.5" y2="28.70" stroke="#666" stroke-width="1"/>
<text transform="translate(162.45,470.3) scale(0.88,1)" font-size="21" letter-spacing="0.5" fill="#222" stroke="#222" stroke-width="0.35" text-anchor="middle">2.5</text>
<line x1="162.27" y1="451.3" x2="162.27" y2="454.3" stroke="#777" stroke-width="1"/>
<text transform="translate(278.85,470.3) scale(0.88,1)" font-size="21" letter-spacing="0.5" fill="#222" stroke="#222" stroke-width="0.35" text-anchor="middle">5.0</text>
<line x1="278.10" y1="451.3" x2="278.10" y2="454.3" stroke="#777" stroke-width="1"/>
<text transform="translate(394.15,470.3) scale(0.88,1)" font-size="21" letter-spacing="0.5" fill="#222" stroke="#222" stroke-width="0.35" text-anchor="middle">7.5</text>
<line x1="393.92" y1="451.3" x2="393.92" y2="454.3" stroke="#777" stroke-width="1"/>
<text transform="translate(514.15,470.3) scale(0.88,1)" font-size="21" letter-spacing="0.5" fill="#222" stroke="#222" stroke-width="0.35" text-anchor="middle">10.0</text>
<line x1="509.75" y1="451.3" x2="509.75" y2="454.3" stroke="#777" stroke-width="1"/>
<text transform="translate(630.05,470.3) scale(0.88,1)" font-size="21" letter-spacing="0.5" fill="#222" stroke="#222" stroke-width="0.35" text-anchor="middle">12.5</text>
<line x1="625.58" y1="451.3" x2="625.58" y2="454.3" stroke="#777" stroke-width="1"/>
<text x="358.5" y="499.8" font-size="25.2" fill="#111" stroke="#111" stroke-width="0.8" text-anchor="middle">TC (mmol/L)</text>
<text transform="translate(20,230.5) rotate(-90)" font-size="25.5" fill="#111" stroke="#111" stroke-width="0.8" text-anchor="middle" style="white-space:pre">Odds Ratio of  Diabetes</text>
<text transform="translate(683.8,234.4) rotate(90)" font-size="25.6" fill="#111" stroke="#111" stroke-width="0.8" text-anchor="middle">Percentage of Population (%)</text>
<line x1="112" y1="62.4" x2="160.5" y2="62.4" stroke="#d95a78" stroke-width="1.3"/>
<line x1="112" y1="88.7" x2="160.5" y2="88.7" stroke="#9c9c9c" stroke-width="1.3" stroke-dasharray="2,2"/>
<text x="171.8" y="68.6" font-size="17.5" letter-spacing="1.15" fill="#1a1a1a" stroke="#1a1a1a" stroke-width="0.1">Estimation</text>
<text x="171.8" y="96.2" font-size="17.5" letter-spacing="1.45" fill="#1a1a1a" stroke="#1a1a1a" stroke-width="0.1">95% CI</text>
<text x="351" y="67.2" font-size="17.5" letter-spacing="0.95" fill="#1a1a1a" stroke="#1a1a1a" stroke-width="0.1"><tspan font-style="italic">P</tspan>-overall &lt; 0.001</text>
<text x="351" y="95.6" font-size="17.5" letter-spacing="0.93" fill="#1a1a1a" stroke="#1a1a1a" stroke-width="0.1"><tspan font-style="italic">P</tspan>-non-linear &lt; 0.001</text>
<text x="737.3" y="467.4" font-size="30" fill="#000" stroke="#000" stroke-width="0.4">B</text>
</g>
<g transform="translate(0,1121.2)">
<rect x="149.08" y="451.00" width="7.56" height="0.30" fill="#fafafa" stroke="#cbcbcb" stroke-width="1"/>
<rect x="156.64" y="450.80" width="7.56" height="0.50" fill="#fafafa" stroke="#cbcbcb" stroke-width="1"/>
<rect x="164.20" y="450.30" width="7.20" height="1.00" fill="#fafafa" stroke="#cbcbcb" stroke-width="1"/>
<rect x="171.40" y="448.30" width="9.00" height="3.00" fill="#fafafa" stroke="#cbcbcb" stroke-width="1"/>
<rect x="180.40" y="443.90" width="8.00" height="7.40" fill="#fafafa" stroke="#cbcbcb" stroke-width="1"/>
<rect x="188.40" y="436.10" width="7.90" height="15.20" fill="#fafafa" stroke="#cbcbcb" stroke-width="1"/>
<rect x="196.30" y="426.20" width="5.80" height="25.10" fill="#fafafa" stroke="#cbcbcb" stroke-width="1"/>
<rect x="202.10" y="356.50" width="8.80" height="94.80" fill="#fafafa" stroke="#cbcbcb" stroke-width="1"/>
<rect x="210.90" y="364.80" width="7.40" height="86.50" fill="#fafafa" stroke="#cbcbcb" stroke-width="1"/>
<rect x="218.30" y="342.50" width="7.70" height="108.80" fill="#fafafa" stroke="#cbcbcb" stroke-width="1"/>
<rect x="226.00" y="282.10" width="8.20" height="169.20" fill="#fafafa" stroke="#cbcbcb" stroke-width="1"/>
<rect x="234.20" y="271.80" width="6.10" height="179.50" fill="#fafafa" stroke="#cbcbcb" stroke-width="1"/>
<rect x="240.30" y="226.20" width="7.50" height="225.10" fill="#fafafa" stroke="#cbcbcb" stroke-width="1"/>
<rect x="247.80" y="199.30" width="8.30" height="252.00" fill="#fafafa" stroke="#cbcbcb" stroke-width="1"/>
<rect x="256.10" y="193.70" width="7.80" height="257.60" fill="#fafafa" stroke="#cbcbcb" stroke-width="1"/>
<rect x="263.90" y="150.90" width="7.00" height="300.40" fill="#fafafa" stroke="#cbcbcb" stroke-width="1"/>
<rect x="270.90" y="177.80" width="6.50" height="273.50" fill="#fafafa" stroke="#cbcbcb" stroke-width="1"/>
<rect x="277.40" y="143.80" width="9.50" height="307.50" fill="#fafafa" stroke="#cbcbcb" stroke-width="1"/>
<rect x="286.90" y="180.60" width="7.70" height="270.70" fill="#fafafa" stroke="#cbcbcb" stroke-width="1"/>
<rect x="294.60" y="210.40" width="6.50" height="240.90" fill="#fafafa" stroke="#cbcbcb" stroke-width="1"/>
<rect x="301.10" y="221.00" width="7.20" height="230.30" fill="#fafafa" stroke="#cbcbcb" stroke-width="1"/>
<rect x="308.30" y="256.50" width="7.50" height="194.80" fill="#fafafa" stroke="#cbcbcb" stroke-width="1"/>
<rect x="315.80" y="264.20" width="8.20" height="187.10" fill="#fafafa" stroke="#cbcbcb" stroke-width="1"/>
<rect x="324.00" y="291.00" width="8.30" height="160.30" fill="#fafafa" stroke="#cbcbcb" stroke-width="1"/>
<rect x="332.30" y="331.40" width="7.30" height="119.90" fill="#fafafa" stroke="#cbcbcb" stroke-width="1"/>
<rect x="339.60" y="346.70" width="7.40" height="104.60" fill="#fafafa" stroke="#cbcbcb" stroke-width="1"/>
<rect x="347.00" y="366.90" width="7.30" height="84.40" fill="#fafafa" stroke="#cbcbcb" stroke-width="1"/>
<rect x="354.30" y="386.10" width="7.30" height="65.20" fill="#fafafa" stroke="#cbcbcb" stroke-width="1"/>
<rect x="361.60" y="398.60" width="7.30" height="52.70" fill="#fafafa" stroke="#cbcbcb" stroke-width="1"/>
<rect x="368.90" y="409.00" width="7.40" height="42.30" fill="#fafafa" stroke="#cbcbcb" stroke-width="1"/>
<rect x="376.30" y="416.80" width="7.30" height="34.50" fill="#fafafa" stroke="#cbcbcb" stroke-width="1"/>
<rect x="383.60" y="428.40" width="7.70" height="22.90" fill="#fafafa" stroke="#cbcbcb" stroke-width="1"/>
<rect x="391.30" y="433.30" width="7.90" height="18.00" fill="#fafafa" stroke="#cbcbcb" stroke-width="1"/>
<rect x="399.20" y="436.40" width="7.90" height="14.90" fill="#fafafa" stroke="#cbcbcb" stroke-width="1"/>
<rect x="407.10" y="440.40" width="7.10" height="10.90" fill="#fafafa" stroke="#cbcbcb" stroke-width="1"/>
<rect x="414.20" y="442.00" width="7.10" height="9.30" fill="#fafafa" stroke="#cbcbcb" stroke-width="1"/>
<rect x="421.30" y="444.30" width="7.56" height="7.00" fill="#fafafa" stroke="#cbcbcb" stroke-width="1"/>
<rect x="428.86" y="446.70" width="7.56" height="4.60" fill="#fafafa" stroke="#cbcbcb" stroke-width="1"/>
<rect x="436.42" y="448.30" width="7.56" height="3.00" fill="#fafafa" stroke="#cbcbcb" stroke-width="1"/>
<rect x="443.98" y="449.30" width="7.56" height="2.00" fill="#fafafa" stroke="#cbcbcb" stroke-width="1"/>
<rect x="451.54" y="450.10" width="7.56" height="1.20" fill="#fafafa" stroke="#cbcbcb" stroke-width="1"/>
<rect x="459.10" y="450.60" width="7.56" height="0.70" fill="#fafafa" stroke="#cbcbcb" stroke-width="1"/>
<rect x="466.66" y="450.80" width="7.56" height="0.50" fill="#fafafa" stroke="#cbcbcb" stroke-width="1"/>
<line x1="53.0" y1="380.53" x2="647.5" y2="380.53" stroke="#c8c8c8" stroke-width="1.2" stroke-dasharray="2,2"/>
<path d="M53.35,391.71 L55.33,391.62 L57.31,391.53 L59.29,391.44 L61.27,391.35 L63.25,391.26 L65.23,391.17 L67.21,391.08 L69.19,390.99 L71.17,390.90 L73.15,390.81 L75.13,390.72 L77.11,390.63 L79.09,390.54 L81.07,390.45 L83.05,390.36 L85.03,390.26 L87.01,390.17 L88.99,390.08 L90.97,389.99 L92.95,389.90 L94.93,389.81 L96.91,389.71 L98.89,389.62 L100.87,389.53 L102.85,389.44 L104.83,389.34 L106.81,389.25 L108.79,389.16 L110.77,389.07 L112.75,388.97 L114.73,388.88 L116.71,388.79 L118.69,388.69 L120.67,388.60 L122.65,388.50 L124.63,388.41 L126.61,388.32 L128.59,388.22 L130.57,388.13 L132.55,388.03 L134.53,387.94 L136.51,387.84 L138.49,387.75 L140.47,387.65 L142.45,387.56 L144.43,387.46 L146.41,387.37 L148.39,387.27 L150.37,387.18 L152.35,387.08 L154.33,386.98 L156.31,386.89 L158.29,386.79 L160.27,386.69 L162.25,386.60 L164.23,386.49 L166.21,386.37 L168.19,386.26 L170.17,386.15 L172.15,386.03 L174.13,385.92 L176.11,385.81 L178.09,385.69 L180.07,385.58 L182.05,385.46 L184.03,385.35 L186.01,385.23 L187.99,385.12 L189.97,385.00 L191.95,384.89 L193.93,384.77 L195.91,384.66 L197.89,384.54 L199.87,384.43 L201.85,384.31 L203.83,384.19 L205.81,384.08 L207.79,383.96 L209.77,383.84 L211.75,383.72 L213.73,383.60 L215.71,383.49 L217.69,383.37 L219.67,383.25 L221.65,383.13 L223.63,383.01 L225.61,382.89 L227.59,382.76 L229.57,382.64 L231.55,382.51 L233.53,382.39 L235.51,382.26 L237.49,382.12 L239.47,381.98 L241.45,381.84 L243.43,381.69 L245.41,381.53 L247.39,381.36 L249.37,381.17 L251.35,380.97 L253.33,380.75 L255.31,380.51 L257.29,380.24 L259.27,379.95 L261.25,379.58 L263.23,379.17 L265.21,378.73 L267.19,378.27 L269.17,377.78 L271.15,377.27 L273.13,376.74 L275.11,376.19 L277.09,375.62 L279.07,375.04 L281.05,374.45 L283.03,373.85 L285.01,373.24 L286.99,372.62 L288.97,372.00 L290.95,371.36 L292.93,370.72 L294.91,370.08 L296.89,369.43 L298.87,368.77 L300.85,368.10 L302.83,367.43 L304.81,366.76 L306.79,366.07 L308.77,365.39 L310.75,364.69 L312.73,363.99 L314.71,363.29 L316.69,362.58 L318.67,361.86 L320.65,361.14 L322.63,360.41 L324.61,359.68 L326.59,358.93 L328.57,358.17 L330.55,357.40 L332.53,356.63 L334.51,355.85 L336.49,355.07 L338.47,354.28 L340.45,353.48 L342.43,352.67 L344.41,351.86 L346.39,351.05 L348.37,350.22 L350.35,349.39 L352.33,348.55 L354.31,347.71 L356.29,346.86 L358.27,346.00 L360.25,345.13 L362.23,344.26 L364.21,343.37 L366.19,342.48 L368.17,341.57 L370.15,340.66 L372.13,339.75 L374.11,338.82 L376.09,337.89 L378.07,336.95 L380.05,336.00 L382.03,335.05 L384.01,334.08 L385.99,333.11 L387.97,332.13 L389.95,331.14 L391.93,330.15 L393.91,329.14 L395.89,328.13 L397.87,327.11 L399.85,326.08 L401.83,325.04 L403.81,323.99 L405.79,322.94 L407.77,321.88 L409.75,320.80 L411.73,319.72 L413.71,318.63 L415.69,317.53 L417.67,316.42 L419.65,315.30 L421.63,314.16 L423.61,312.99 L425.59,311.82 L427.57,310.64 L429.55,309.44 L431.53,308.24 L433.51,307.03 L435.49,305.80 L437.47,304.57 L439.45,303.32 L441.43,302.07 L443.41,300.80 L445.39,299.52 L447.37,298.24 L449.35,296.94 L451.33,295.63 L453.31,294.31 L455.29,292.97 L457.27,291.63 L459.25,290.28 L461.23,288.91 L463.21,287.53 L465.19,286.14 L467.17,284.74 L469.15,283.33 L471.13,281.90 L473.11,280.47 L475.09,279.02 L477.07,277.55 L479.05,276.08 L481.03,274.61 L483.01,273.13 L484.99,271.65 L486.97,270.15 L488.95,268.64 L490.93,267.12 L492.91,265.59 L494.89,264.04 L496.87,262.48 L498.85,260.90 L500.83,259.32 L502.81,257.72 L504.79,256.10 L506.77,254.48 L508.75,252.84 L510.73,251.18 L512.71,249.52 L514.69,247.84 L516.67,246.14 L518.65,244.43 L520.63,242.71 L522.61,240.97 L524.59,239.22 L526.57,237.45 L528.55,235.67 L530.53,233.87 L532.51,232.06 L534.49,230.23 L536.47,228.39 L538.45,226.52 L540.43,224.61 L542.41,222.70 L544.39,220.76 L546.37,218.81 L548.35,216.84 L550.33,214.85 L552.31,212.85 L554.29,210.83 L556.27,208.80 L558.25,206.74 L560.23,204.67 L562.21,202.62 L564.19,200.56 L566.17,198.48 L568.15,196.38 L570.13,194.27 L572.11,192.14 L574.09,190.00 L576.07,187.83 L578.05,185.65 L580.03,183.45 L582.01,181.23 L583.99,178.99 L585.97,176.73 L587.95,174.46 L589.93,172.16 L591.91,169.85 L593.89,167.52 L595.87,165.17 L597.85,162.80 L599.83,160.41 L601.81,158.00 L603.79,155.61 L605.77,153.22 L607.75,150.81 L609.73,148.38 L611.71,145.94 L613.69,143.47 L615.67,140.98 L617.65,138.47 L619.63,135.95 L621.61,133.40 L623.59,130.83 L625.57,128.24 L627.55,125.63 L629.53,123.00 L631.51,120.35 L633.49,117.67 L635.47,114.98 L637.45,112.26 L639.43,109.52 L641.41,106.76 L643.39,103.97 L645.37,101.17 L647.35,98.34" fill="none" stroke="#ef93a8" stroke-width="1.4" stroke-dasharray="3.6,6"/>
<path d="M53.35,401.92 L55.33,401.76 L57.31,401.59 L59.29,401.42 L61.27,401.25 L63.25,401.08 L65.23,400.91 L67.21,400.74 L69.19,400.57 L71.17,400.40 L73.15,400.23 L75.13,400.05 L77.11,399.88 L79.09,399.71 L81.07,399.53 L83.05,399.36 L85.03,399.18 L87.01,399.01 L88.99,398.83 L90.97,398.65 L92.95,398.47 L94.93,398.29 L96.91,398.12 L98.89,397.94 L100.87,397.76 L102.85,397.57 L104.83,397.39 L106.81,397.21 L108.79,397.03 L110.77,396.84 L112.75,396.66 L114.73,396.47 L116.71,396.29 L118.69,396.10 L120.67,395.92 L122.65,395.73 L124.63,395.54 L126.61,395.35 L128.59,395.16 L130.57,394.97 L132.55,394.78 L134.53,394.59 L136.51,394.40 L138.49,394.21 L140.47,394.01 L142.45,393.82 L144.43,393.63 L146.41,393.43 L148.39,393.24 L150.37,393.04 L152.35,392.84 L154.33,392.64 L156.31,392.45 L158.29,392.25 L160.27,392.05 L162.25,391.85 L164.23,391.66 L166.21,391.47 L168.19,391.29 L170.17,391.10 L172.15,390.91 L174.13,390.72 L176.11,390.53 L178.09,390.34 L180.07,390.15 L182.05,389.95 L184.03,389.76 L186.01,389.57 L187.99,389.37 L189.97,389.18 L191.95,388.99 L193.93,388.79 L195.91,388.59 L197.89,388.40 L199.87,388.20 L201.85,388.00 L203.83,387.80 L205.81,387.60 L207.79,387.40 L209.77,387.20 L211.75,387.00 L213.73,386.80 L215.71,386.59 L217.69,386.39 L219.67,386.19 L221.65,385.98 L223.63,385.77 L225.61,385.56 L227.59,385.35 L229.57,385.14 L231.55,384.93 L233.53,384.71 L235.51,384.49 L237.49,384.27 L239.47,384.04 L241.45,383.81 L243.43,383.57 L245.41,383.32 L247.39,383.06 L249.37,382.78 L251.35,382.49 L253.33,382.18 L255.31,381.84 L257.29,381.48 L259.27,381.10 L261.25,380.73 L263.23,380.35 L265.21,379.93 L267.19,379.50 L269.17,379.03 L271.15,378.55 L273.13,378.04 L275.11,377.52 L277.09,376.98 L279.07,376.43 L281.05,375.87 L283.03,375.30 L285.01,374.72 L286.99,374.13 L288.97,373.54 L290.95,372.94 L292.93,372.33 L294.91,371.71 L296.89,371.09 L298.87,370.47 L300.85,369.84 L302.83,369.20 L304.81,368.56 L306.79,367.91 L308.77,367.26 L310.75,366.60 L312.73,365.94 L314.71,365.27 L316.69,364.60 L318.67,363.92 L320.65,363.24 L322.63,362.55 L324.61,361.86 L326.59,361.17 L328.57,360.48 L330.55,359.78 L332.53,359.08 L334.51,358.37 L336.49,357.65 L338.47,356.93 L340.45,356.21 L342.43,355.48 L344.41,354.74 L346.39,354.00 L348.37,353.25 L350.35,352.50 L352.33,351.74 L354.31,350.98 L356.29,350.21 L358.27,349.43 L360.25,348.65 L362.23,347.86 L364.21,347.07 L366.19,346.28 L368.17,345.48 L370.15,344.68 L372.13,343.87 L374.11,343.05 L376.09,342.22 L378.07,341.39 L380.05,340.56 L382.03,339.71 L384.01,338.86 L385.99,338.01 L387.97,337.15 L389.95,336.28 L391.93,335.40 L393.91,334.52 L395.89,333.63 L397.87,332.74 L399.85,331.83 L401.83,330.92 L403.81,330.01 L405.79,329.08 L407.77,328.15 L409.75,327.22 L411.73,326.27 L413.71,325.32 L415.69,324.36 L417.67,323.40 L419.65,322.42 L421.63,321.46 L423.61,320.49 L425.59,319.52 L427.57,318.55 L429.55,317.56 L431.53,316.57 L433.51,315.57 L435.49,314.56 L437.47,313.55 L439.45,312.53 L441.43,311.50 L443.41,310.46 L445.39,309.42 L447.37,308.37 L449.35,307.31 L451.33,306.24 L453.31,305.16 L455.29,304.08 L457.27,302.99 L459.25,301.89 L461.23,300.78 L463.21,299.66 L465.19,298.54 L467.17,297.41 L469.15,296.26 L471.13,295.11 L473.11,293.96 L475.09,292.79 L477.07,291.61 L479.05,290.43 L481.03,289.22 L483.01,288.00 L484.99,286.76 L486.97,285.52 L488.95,284.26 L490.93,283.00 L492.91,281.72 L494.89,280.44 L496.87,279.15 L498.85,277.84 L500.83,276.53 L502.81,275.21 L504.79,273.88 L506.77,272.53 L508.75,271.18 L510.73,269.82 L512.71,268.44 L514.69,267.06 L516.67,265.66 L518.65,264.26 L520.63,262.84 L522.61,261.42 L524.59,259.98 L526.57,258.53 L528.55,257.07 L530.53,255.60 L532.51,254.12 L534.49,252.63 L536.47,251.13 L538.45,249.62 L540.43,248.12 L542.41,246.61 L544.39,245.09 L546.37,243.56 L548.35,242.02 L550.33,240.46 L552.31,238.89 L554.29,237.31 L556.27,235.72 L558.25,234.12 L560.23,232.51 L562.21,230.85 L564.19,229.17 L566.17,227.48 L568.15,225.77 L570.13,224.06 L572.11,222.33 L574.09,220.58 L576.07,218.83 L578.05,217.05 L580.03,215.27 L582.01,213.47 L583.99,211.66 L585.97,209.84 L587.95,208.00 L589.93,206.15 L591.91,204.28 L593.89,202.40 L595.87,200.50 L597.85,198.59 L599.83,196.67 L601.81,194.73 L603.79,192.74 L605.77,190.72 L607.75,188.68 L609.73,186.62 L611.71,184.55 L613.69,182.47 L615.67,180.36 L617.65,178.24 L619.63,176.11 L621.61,173.96 L623.59,171.79 L625.57,169.60 L627.55,167.40 L629.53,165.18 L631.51,162.94 L633.49,160.68 L635.47,158.41 L637.45,156.12 L639.43,153.81 L641.41,151.49 L643.39,149.14 L645.37,146.78 L647.35,144.40" fill="none" stroke="#ef93a8" stroke-width="1.4" stroke-dasharray="3.6,6"/>
<path d="M53.35,397.06 L55.33,396.92 L57.31,396.79 L59.29,396.66 L61.27,396.52 L63.25,396.39 L65.23,396.26 L67.21,396.12 L69.19,395.99 L71.17,395.85 L73.15,395.72 L75.13,395.58 L77.11,395.45 L79.09,395.31 L81.07,395.17 L83.05,395.04 L85.03,394.90 L87.01,394.76 L88.99,394.62 L90.97,394.49 L92.95,394.35 L94.93,394.21 L96.91,394.07 L98.89,393.93 L100.87,393.79 L102.85,393.65 L104.83,393.51 L106.81,393.37 L108.79,393.23 L110.77,393.08 L112.75,392.94 L114.73,392.80 L116.71,392.66 L118.69,392.51 L120.67,392.37 L122.65,392.23 L124.63,392.08 L126.61,391.94 L128.59,391.79 L130.57,391.65 L132.55,391.50 L134.53,391.36 L136.51,391.21 L138.49,391.06 L140.47,390.92 L142.45,390.77 L144.43,390.62 L146.41,390.47 L148.39,390.33 L150.37,390.18 L152.35,390.03 L154.33,389.88 L156.31,389.73 L158.29,389.58 L160.27,389.43 L162.25,389.28 L164.23,389.13 L166.21,388.98 L168.19,388.82 L170.17,388.67 L172.15,388.52 L174.13,388.36 L176.11,388.21 L178.09,388.06 L180.07,387.90 L182.05,387.75 L184.03,387.59 L186.01,387.44 L187.99,387.28 L189.97,387.13 L191.95,386.97 L193.93,386.81 L195.91,386.66 L197.89,386.50 L199.87,386.34 L201.85,386.18 L203.83,386.02 L205.81,385.86 L207.79,385.70 L209.77,385.54 L211.75,385.38 L213.73,385.22 L215.71,385.06 L217.69,384.90 L219.67,384.73 L221.65,384.57 L223.63,384.40 L225.61,384.24 L227.59,384.07 L229.57,383.90 L231.55,383.73 L233.53,383.56 L235.51,383.38 L237.49,383.21 L239.47,383.02 L241.45,382.83 L243.43,382.64 L245.41,382.43 L247.39,382.21 L249.37,381.98 L251.35,381.73 L253.33,381.47 L255.31,381.18 L257.29,380.87 L259.27,380.53 L261.25,380.16 L263.23,379.76 L265.21,379.34 L267.19,378.89 L269.17,378.41 L271.15,377.91 L273.13,377.39 L275.11,376.86 L277.09,376.31 L279.07,375.74 L281.05,375.17 L283.03,374.58 L285.01,373.99 L286.99,373.38 L288.97,372.77 L290.95,372.15 L292.93,371.53 L294.91,370.90 L296.89,370.26 L298.87,369.62 L300.85,368.97 L302.83,368.32 L304.81,367.66 L306.79,367.00 L308.77,366.33 L310.75,365.65 L312.73,364.97 L314.71,364.29 L316.69,363.60 L318.67,362.90 L320.65,362.20 L322.63,361.49 L324.61,360.77 L326.59,360.05 L328.57,359.33 L330.55,358.60 L332.53,357.86 L334.51,357.12 L336.49,356.37 L338.47,355.61 L340.45,354.85 L342.43,354.09 L344.41,353.31 L346.39,352.53 L348.37,351.75 L350.35,350.96 L352.33,350.16 L354.31,349.36 L356.29,348.55 L358.27,347.73 L360.25,346.91 L362.23,346.08 L364.21,345.24 L366.19,344.40 L368.17,343.55 L370.15,342.69 L372.13,341.83 L374.11,340.96 L376.09,340.08 L378.07,339.19 L380.05,338.30 L382.03,337.40 L384.01,336.50 L385.99,335.59 L387.97,334.67 L389.95,333.74 L391.93,332.80 L393.91,331.86 L395.89,330.91 L397.87,329.95 L399.85,328.99 L401.83,328.02 L403.81,327.04 L405.79,326.05 L407.77,325.05 L409.75,324.05 L411.73,323.04 L413.71,322.02 L415.69,320.99 L417.67,319.95 L419.65,318.91 L421.63,317.86 L423.61,316.80 L425.59,315.73 L427.57,314.65 L429.55,313.56 L431.53,312.47 L433.51,311.36 L435.49,310.25 L437.47,309.13 L439.45,308.00 L441.43,306.86 L443.41,305.71 L445.39,304.55 L447.37,303.39 L449.35,302.21 L451.33,301.03 L453.31,299.83 L455.29,298.63 L457.27,297.41 L459.25,296.19 L461.23,294.96 L463.21,293.71 L465.19,292.46 L467.17,291.20 L469.15,289.93 L471.13,288.64 L473.11,287.35 L475.09,286.05 L477.07,284.73 L479.05,283.41 L481.03,282.07 L483.01,280.73 L484.99,279.37 L486.97,278.00 L488.95,276.63 L490.93,275.24 L492.91,273.84 L494.89,272.43 L496.87,271.00 L498.85,269.57 L500.83,268.13 L502.81,266.67 L504.79,265.20 L506.77,263.72 L508.75,262.23 L510.73,260.73 L512.71,259.21 L514.69,257.69 L516.67,256.15 L518.65,254.59 L520.63,253.03 L522.61,251.45 L524.59,249.87 L526.57,248.26 L528.55,246.65 L530.53,245.02 L532.51,243.38 L534.49,241.73 L536.47,240.06 L538.45,238.38 L540.43,236.69 L542.41,234.99 L544.39,233.27 L546.37,231.53 L548.35,229.78 L550.33,228.02 L552.31,226.25 L554.29,224.46 L556.27,222.66 L558.25,220.84 L560.23,219.01 L562.21,217.16 L564.19,215.30 L566.17,213.42 L568.15,211.53 L570.13,209.62 L572.11,207.70 L574.09,205.76 L576.07,203.81 L578.05,201.85 L580.03,199.86 L582.01,197.86 L583.99,195.85 L585.97,193.82 L587.95,191.77 L589.93,189.71 L591.91,187.63 L593.89,185.53 L595.87,183.42 L597.85,181.29 L599.83,179.14 L601.81,176.98 L603.79,174.80 L605.77,172.60 L607.75,170.38 L609.73,168.15 L611.71,165.90 L613.69,163.63 L615.67,161.34 L617.65,159.04 L619.63,156.71 L621.61,154.37 L623.59,152.01 L625.57,149.63 L627.55,147.23 L629.53,144.81 L631.51,142.38 L633.49,139.92 L635.47,137.44 L637.45,134.95 L639.43,132.43 L641.41,129.90 L643.39,127.34 L645.37,124.77 L647.35,122.17" fill="none" stroke="#df5a7a" stroke-width="2.3"/>
<line x1="53.0" y1="451.3" x2="647.5" y2="451.3" stroke="#c8c8c8" stroke-width="4.4"/>
<line x1="53.0" y1="30.5" x2="53.0" y2="453.0" stroke="#c8c8c8" stroke-width="4.4"/>
<line x1="647.5" y1="28.7" x2="647.5" y2="452.8" stroke="#555" stroke-width="1.8"/>
<text transform="translate(51.70,457.70) scale(0.96,1)" font-size="21" letter-spacing="0.5" fill="#484848" stroke="#484848" stroke-width="0.3" text-anchor="end">0.0</text>
<text transform="translate(51.70,387.63) scale(0.96,1)" font-size="21" letter-spacing="0.5" fill="#484848" stroke="#484848" stroke-width="0.3" text-anchor="end">1.0</text>
<text transform="translate(51.70,317.57) scale(0.96,1)" font-size="21" letter-spacing="0.5" fill="#484848" stroke="#484848" stroke-width="0.3" text-anchor="end">2.0</text>
<text transform="translate(51.70,247.50) scale(0.96,1)" font-size="21" letter-spacing="0.5" fill="#484848" stroke="#484848" stroke-width="0.3" text-anchor="end">3.0</text>
<text transform="translate(51.70,177.43) scale(0.96,1)" font-size="21" letter-spacing="0.5" fill="#484848" stroke="#484848" stroke-width="0.3" text-anchor="end">4.0</text>
<text transform="translate(51.70,107.37) scale(0.96,1)" font-size="21" letter-spacing="0.5" fill="#484848" stroke="#484848" stroke-width="0.3" text-anchor="end">5.0</text>
<text transform="translate(51.70,37.30) scale(0.96,1)" font-size="21" letter-spacing="0.5" fill="#484848" stroke="#484848" stroke-width="0.3" text-anchor="end">6.0</text>
<text transform="translate(651.5,459.10) scale(0.88,1)" font-size="21" letter-spacing="0.5" fill="#2a2a2a" stroke="#2a2a2a" stroke-width="0.35">0.0</text>
<line x1="644.5" y1="451.30" x2="647.5" y2="451.30" stroke="#666" stroke-width="1"/>
<text transform="translate(651.5,353.45) scale(0.88,1)" font-size="21" letter-spacing="0.5" fill="#2a2a2a" stroke="#2a2a2a" stroke-width="0.35">2.5</text>
<line x1="644.5" y1="345.65" x2="647.5" y2="345.65" stroke="#666" stroke-width="1"/>
<text transform="translate(651.5,247.80) scale(0.88,1)" font-size="21" letter-spacing="0.5" fill="#2a2a2a" stroke="#2a2a2a" stroke-width="0.35">5.0</text>
<line x1="644.5" y1="240.00" x2="647.5" y2="240.00" stroke="#666" stroke-width="1"/>
<text transform="translate(651.5,142.15) scale(0.88,1)" font-size="21" letter-spacing="0.5" fill="#2a2a2a" stroke="#2a2a2a" stroke-width="0.35">7.5</text>
<line x1="644.5" y1="134.35" x2="647.5" y2="134.35" stroke="#666" stroke-width="1"/>
<text transform="translate(651.5,36.50) scale(0.88,1)" font-size="21" letter-spacing="0.5" fill="#2a2a2a" stroke="#2a2a2a" stroke-width="0.35">10.0</text>
<line x1="644.5" y1="28.70" x2="647.5" y2="28.70" stroke="#666" stroke-width="1"/>
<text transform="translate(162.45,470.3) scale(0.88,1)" font-size="21" letter-spacing="0.5" fill="#222" stroke="#222" stroke-width="0.35" text-anchor="middle">2.5</text>
<line x1="162.27" y1="451.3" x2="162.27" y2="454.3" stroke="#777" stroke-width="1"/>
<text transform="translate(278.85,470.3) scale(0.88,1)" font-size="21" letter-spacing="0.5" fill="#222" stroke="#222" stroke-width="0.35" text-anchor="middle">5.0</text>
<line x1="278.10" y1="451.3" x2="278.10" y2="454.3" stroke="#777" stroke-width="1"/>
<text transform="translate(394.15,470.3) scale(0.88,1)" font-size="21" letter-spacing="0.5" fill="#222" stroke="#222" stroke-width="0.35" text-anchor="middle">7.5</text>
<line x1="393.92" y1="451.3" x2="393.92" y2="454.3" stroke="#777" stroke-width="1"/>
<text transform="translate(514.15,470.3) scale(0.88,1)" font-size="21" letter-spacing="0.5" fill="#222" stroke="#222" stroke-width="0.35" text-anchor="middle">10.0</text>
<line x1="509.75" y1="451.3" x2="509.75" y2="454.3" stroke="#777" stroke-width="1"/>
<text transform="translate(630.05,470.3) scale(0.88,1)" font-size="21" letter-spacing="0.5" fill="#222" stroke="#222" stroke-width="0.35" text-anchor="middle">12.5</text>
<line x1="625.58" y1="451.3" x2="625.58" y2="454.3" stroke="#777" stroke-width="1"/>
<text x="358.5" y="499.8" font-size="25.2" fill="#111" stroke="#111" stroke-width="0.8" text-anchor="middle">TC (mmol/L)</text>
<text transform="translate(20,230.5) rotate(-90)" font-size="25.5" fill="#111" stroke="#111" stroke-width="0.8" text-anchor="middle" style="white-space:pre">Odds Ratio of  Diabetes</text>
<text transform="translate(683.8,234.4) rotate(90)" font-size="25.6" fill="#111" stroke="#111" stroke-width="0.8" text-anchor="middle">Percentage of Population (%)</text>
<line x1="112" y1="62.4" x2="160.5" y2="62.4" stroke="#d95a78" stroke-width="1.3"/>
<line x1="112" y1="88.7" x2="160.5" y2="88.7" stroke="#9c9c9c" stroke-width="1.3" stroke-dasharray="2,2"/>
<text x="171.8" y="68.6" font-size="17.5" letter-spacing="1.15" fill="#1a1a1a" stroke="#1a1a1a" stroke-width="0.1">Estimation</text>
<text x="171.8" y="96.2" font-size="17.5" letter-spacing="1.45" fill="#1a1a1a" stroke="#1a1a1a" stroke-width="0.1">95% CI</text>
<text x="351" y="67.2" font-size="17.5" letter-spacing="0.95" fill="#1a1a1a" stroke="#1a1a1a" stroke-width="0.1"><tspan font-style="italic">P</tspan>-overall &lt; 0.001</text>
<text x="351" y="95.6" font-size="17.5" letter-spacing="0.93" fill="#1a1a1a" stroke="#1a1a1a" stroke-width="0.1"><tspan font-style="italic">P</tspan>-non-linear &lt; 0.001</text>
<text x="737.3" y="467.4" font-size="30" fill="#000" stroke="#000" stroke-width="0.4">C</text>
</g>
</g></svg></body></html>
